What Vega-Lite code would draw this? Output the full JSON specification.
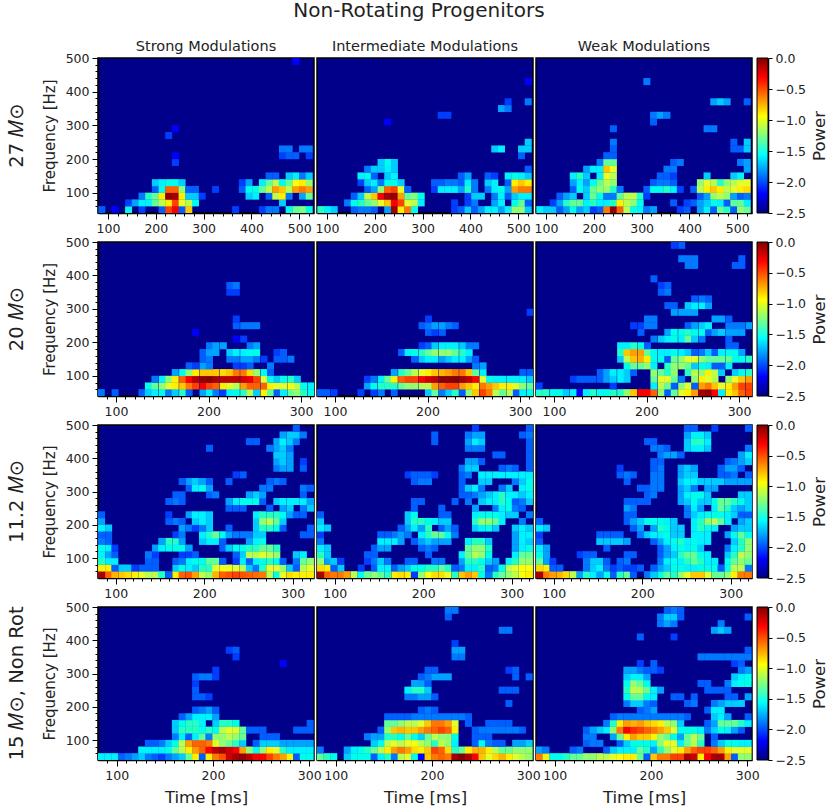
{"$schema":"https://vega.github.io/schema/vega-lite/v6.json","padding":{"left":0,"top":0,"right":0,"bottom":0},"columns":5,"align":"each","bounds":"flush","spacing":{"row":29,"column":3},"background":"white","title":{"text":"Non-Rotating Progenitors","fontSize":20,"fontWeight":"normal","font":"DejaVu Sans","anchor":"middle","offset":17,"dx":5,"color":"#222"},"config":{"font":"DejaVu Sans","legend":{"disable":true},"range":{"heatmap":["#00007f","#0000ff","#007fff","#00ffff","#7fff7f","#ffff00","#ff7f00","#ff0000","#7f0000"]},"axis":{"grid":false,"domainColor":"#000","domainWidth":1.5,"tickColor":"#000","labelFontSize":12.5,"labelColor":"#222","titleFontWeight":"normal","titleFontSize":15,"titleColor":"#222","labelOverlap":false,"labelFlush":false,"labelPadding":3,"titlePadding":8,"tickSize":{"condition":{"test":"datum.value%100==0","value":6},"value":3},"labelExpr":"datum.value%100==0?datum.label:''"},"title":{"fontWeight":"normal","fontSize":14.5,"color":"#222","offset":4},"view":{"fill":"#00008b","stroke":"#000","strokeWidth":1.5}},"datasets":{"cb":[{"a":2,"b":13,"lo":-2.5,"hi":0}],
"a":[{"t":87,"f":50,"v":-2},{"t":115,"f":50,"v":-2.2},{"t":143,"f":50,"v":-1.5},{"t":171,"f":50,"v":-2.1},{"t":213,"f":50,"v":-2},{"t":227,"f":50,"v":-0.4},{"t":241,"f":50,"v":-0.3},{"t":255,"f":50,"v":-2},{"t":269,"f":50,"v":-0.8},{"t":367,"f":50,"v":-2.1},{"t":423,"f":50,"v":-2.1},{"t":437,"f":50,"v":-1.9},{"t":451,"f":50,"v":-1.9},{"t":479,"f":50,"v":-1.5},{"t":493,"f":50,"v":-1.3},{"t":507,"f":50,"v":-1.25},{"t":521,"f":50,"v":-1.5},{"t":143,"f":70,"v":-2.1},{"t":157,"f":70,"v":-1.8},{"t":171,"f":70,"v":-1.6},{"t":185,"f":70,"v":-1.6},{"t":199,"f":70,"v":-1.3},{"t":213,"f":70,"v":-1.1},{"t":227,"f":70,"v":-0.9},{"t":241,"f":70,"v":-0.4},{"t":255,"f":70,"v":-1},{"t":269,"f":70,"v":-1.1},{"t":283,"f":70,"v":-1.5},{"t":465,"f":70,"v":-1.7},{"t":171,"f":90,"v":-1.9},{"t":185,"f":90,"v":-1.4},{"t":199,"f":90,"v":-1.3},{"t":213,"f":90,"v":-0.9},{"t":227,"f":90,"v":-0.05},{"t":241,"f":90,"v":-0.1},{"t":255,"f":90,"v":-0.9},{"t":269,"f":90,"v":-1.7},{"t":283,"f":90,"v":-1.7},{"t":297,"f":90,"v":-2.1},{"t":395,"f":90,"v":-1.7},{"t":409,"f":90,"v":-1.6},{"t":437,"f":90,"v":-2},{"t":451,"f":90,"v":-1.1},{"t":465,"f":90,"v":-0.9},{"t":479,"f":90,"v":-1.9},{"t":507,"f":90,"v":-1.8},{"t":521,"f":90,"v":-1.3},{"t":199,"f":110,"v":-2},{"t":213,"f":110,"v":-1.5},{"t":227,"f":110,"v":-0.5},{"t":241,"f":110,"v":-0.5},{"t":255,"f":110,"v":-1.2},{"t":269,"f":110,"v":-2},{"t":283,"f":110,"v":-2},{"t":325,"f":110,"v":-2.1},{"t":381,"f":110,"v":-2},{"t":395,"f":110,"v":-1.5},{"t":409,"f":110,"v":-1.5},{"t":423,"f":110,"v":-1.3},{"t":437,"f":110,"v":-1.1},{"t":451,"f":110,"v":-0.7},{"t":465,"f":110,"v":-0.8},{"t":479,"f":110,"v":-1.1},{"t":493,"f":110,"v":-0.7},{"t":507,"f":110,"v":-0.6},{"t":521,"f":110,"v":-0.7},{"t":199,"f":130,"v":-1.7},{"t":213,"f":130,"v":-1.6},{"t":227,"f":130,"v":-1.5},{"t":241,"f":130,"v":-1.5},{"t":255,"f":130,"v":-1.7},{"t":381,"f":130,"v":-2.1},{"t":395,"f":130,"v":-1.8},{"t":423,"f":130,"v":-1.6},{"t":437,"f":130,"v":-1.3},{"t":451,"f":130,"v":-1.1},{"t":465,"f":130,"v":-1.5},{"t":479,"f":130,"v":-1.3},{"t":493,"f":130,"v":-0.95},{"t":507,"f":130,"v":-0.9},{"t":521,"f":130,"v":-1.2},{"t":437,"f":150,"v":-2},{"t":451,"f":150,"v":-2},{"t":479,"f":150,"v":-1.7},{"t":493,"f":150,"v":-1.6},{"t":507,"f":150,"v":-1.9},{"t":521,"f":150,"v":-1.7},{"t":241,"f":190,"v":-2.1},{"t":241,"f":210,"v":-2.2},{"t":465,"f":210,"v":-2.1},{"t":479,"f":210,"v":-2},{"t":493,"f":210,"v":-2},{"t":521,"f":210,"v":-2.1},{"t":465,"f":230,"v":-1.9},{"t":479,"f":230,"v":-1.9},{"t":507,"f":230,"v":-1.9},{"t":521,"f":230,"v":-1.9},{"t":227,"f":270,"v":-2.1},{"t":241,"f":290,"v":-2.2},{"t":493,"f":490,"v":-2.2}],
"b":[{"t":87,"f":50,"v":-1.4},{"t":101,"f":50,"v":-1.6},{"t":115,"f":50,"v":-1.7},{"t":157,"f":50,"v":-2},{"t":171,"f":50,"v":-1.9},{"t":185,"f":50,"v":-1.9},{"t":199,"f":50,"v":-2},{"t":227,"f":50,"v":-1.8},{"t":241,"f":50,"v":-0.1},{"t":255,"f":50,"v":-0.9},{"t":269,"f":50,"v":-0.6},{"t":283,"f":50,"v":-1.5},{"t":367,"f":50,"v":-2.1},{"t":381,"f":50,"v":-2},{"t":395,"f":50,"v":-1.7},{"t":409,"f":50,"v":-2},{"t":423,"f":50,"v":-1.8},{"t":437,"f":50,"v":-1.6},{"t":451,"f":50,"v":-1.6},{"t":465,"f":50,"v":-1.8},{"t":479,"f":50,"v":-1.6},{"t":493,"f":50,"v":-1.2},{"t":507,"f":50,"v":-1.2},{"t":521,"f":50,"v":-1.7},{"t":143,"f":70,"v":-1.9},{"t":157,"f":70,"v":-1.5},{"t":171,"f":70,"v":-1.4},{"t":185,"f":70,"v":-1.3},{"t":199,"f":70,"v":-1.2},{"t":213,"f":70,"v":-1},{"t":227,"f":70,"v":-0.8},{"t":241,"f":70,"v":-0.3},{"t":255,"f":70,"v":-0.4},{"t":269,"f":70,"v":-1},{"t":283,"f":70,"v":-1.1},{"t":297,"f":70,"v":-1.6},{"t":367,"f":70,"v":-2.1},{"t":395,"f":70,"v":-2.1},{"t":409,"f":70,"v":-1.9},{"t":451,"f":70,"v":-1.8},{"t":465,"f":70,"v":-1.6},{"t":493,"f":70,"v":-1.5},{"t":507,"f":70,"v":-1.3},{"t":521,"f":70,"v":-2},{"t":157,"f":90,"v":-2},{"t":171,"f":90,"v":-1.7},{"t":185,"f":90,"v":-1.1},{"t":199,"f":90,"v":-0.8},{"t":213,"f":90,"v":-0.3},{"t":227,"f":90,"v":-0.1},{"t":241,"f":90,"v":-0.05},{"t":255,"f":90,"v":-0.7},{"t":269,"f":90,"v":-1.3},{"t":283,"f":90,"v":-1.25},{"t":297,"f":90,"v":-1.5},{"t":395,"f":90,"v":-2.1},{"t":409,"f":90,"v":-1.7},{"t":423,"f":90,"v":-1.7},{"t":451,"f":90,"v":-1.9},{"t":465,"f":90,"v":-1.6},{"t":479,"f":90,"v":-2},{"t":493,"f":90,"v":-1.7},{"t":507,"f":90,"v":-1.6},{"t":521,"f":90,"v":-1.6},{"t":185,"f":110,"v":-2},{"t":199,"f":110,"v":-1.8},{"t":213,"f":110,"v":-1.2},{"t":227,"f":110,"v":-0.5},{"t":241,"f":110,"v":-0.4},{"t":255,"f":110,"v":-1},{"t":269,"f":110,"v":-2},{"t":325,"f":110,"v":-2.1},{"t":339,"f":110,"v":-1.6},{"t":353,"f":110,"v":-1.6},{"t":367,"f":110,"v":-1.6},{"t":381,"f":110,"v":-1.8},{"t":395,"f":110,"v":-1.4},{"t":409,"f":110,"v":-1.9},{"t":437,"f":110,"v":-1.9},{"t":451,"f":110,"v":-1.6},{"t":465,"f":110,"v":-1.5},{"t":479,"f":110,"v":-1.8},{"t":493,"f":110,"v":-0.7},{"t":507,"f":110,"v":-0.6},{"t":521,"f":110,"v":-0.6},{"t":171,"f":130,"v":-2.1},{"t":185,"f":130,"v":-1.7},{"t":199,"f":130,"v":-1.6},{"t":213,"f":130,"v":-1.9},{"t":227,"f":130,"v":-1.5},{"t":241,"f":130,"v":-1.5},{"t":255,"f":130,"v":-1.7},{"t":325,"f":130,"v":-2},{"t":339,"f":130,"v":-2},{"t":353,"f":130,"v":-1.9},{"t":367,"f":130,"v":-1.9},{"t":381,"f":130,"v":-2},{"t":395,"f":130,"v":-1.6},{"t":409,"f":130,"v":-1.9},{"t":437,"f":130,"v":-1.7},{"t":451,"f":130,"v":-1.6},{"t":479,"f":130,"v":-2},{"t":493,"f":130,"v":-0.9},{"t":507,"f":130,"v":-0.8},{"t":521,"f":130,"v":-0.9},{"t":171,"f":150,"v":-1.6},{"t":185,"f":150,"v":-1.5},{"t":199,"f":150,"v":-2},{"t":227,"f":150,"v":-1.7},{"t":241,"f":150,"v":-1.6},{"t":381,"f":150,"v":-2},{"t":395,"f":150,"v":-1.8},{"t":437,"f":150,"v":-2},{"t":451,"f":150,"v":-2.1},{"t":479,"f":150,"v":-1.6},{"t":493,"f":150,"v":-1.5},{"t":507,"f":150,"v":-1.6},{"t":521,"f":150,"v":-1.7},{"t":185,"f":170,"v":-1.9},{"t":199,"f":170,"v":-1.7},{"t":213,"f":170,"v":-1.7},{"t":227,"f":170,"v":-1.6},{"t":241,"f":170,"v":-1.7},{"t":521,"f":170,"v":-2},{"t":213,"f":190,"v":-1.7},{"t":227,"f":190,"v":-1.5},{"t":241,"f":190,"v":-1.7},{"t":507,"f":210,"v":-2},{"t":451,"f":230,"v":-1.7},{"t":465,"f":230,"v":-1.6},{"t":507,"f":230,"v":-1.7},{"t":521,"f":230,"v":-1.7},{"t":521,"f":250,"v":-1.7},{"t":227,"f":310,"v":-2.2},{"t":339,"f":330,"v":-2.1},{"t":353,"f":330,"v":-2.1},{"t":465,"f":350,"v":-1.8},{"t":479,"f":350,"v":-1.9},{"t":479,"f":370,"v":-2.1},{"t":521,"f":370,"v":-1.9},{"t":521,"f":430,"v":-2.2}],
"c":[{"t":87,"f":50,"v":-1.6},{"t":101,"f":50,"v":-1.7},{"t":115,"f":50,"v":-1.7},{"t":129,"f":50,"v":-2},{"t":143,"f":50,"v":-1.8},{"t":157,"f":50,"v":-1.5},{"t":171,"f":50,"v":-1.8},{"t":185,"f":50,"v":-1.7},{"t":199,"f":50,"v":-2.1},{"t":213,"f":50,"v":-2},{"t":227,"f":50,"v":-0.6},{"t":241,"f":50,"v":-0.05},{"t":255,"f":50,"v":-0.5},{"t":269,"f":50,"v":-1.1},{"t":283,"f":50,"v":-1.5},{"t":297,"f":50,"v":-1.6},{"t":311,"f":50,"v":-1.9},{"t":325,"f":50,"v":-1.8},{"t":381,"f":50,"v":-2.1},{"t":395,"f":50,"v":-2},{"t":423,"f":50,"v":-1.8},{"t":437,"f":50,"v":-1.6},{"t":451,"f":50,"v":-2},{"t":465,"f":50,"v":-1.3},{"t":479,"f":50,"v":-1.4},{"t":493,"f":50,"v":-2},{"t":507,"f":50,"v":-1.2},{"t":521,"f":50,"v":-1.3},{"t":115,"f":70,"v":-2.1},{"t":129,"f":70,"v":-1.8},{"t":143,"f":70,"v":-1.4},{"t":157,"f":70,"v":-1.3},{"t":171,"f":70,"v":-1.3},{"t":185,"f":70,"v":-1.6},{"t":199,"f":70,"v":-1.4},{"t":213,"f":70,"v":-1.6},{"t":227,"f":70,"v":-1.6},{"t":241,"f":70,"v":-1.4},{"t":255,"f":70,"v":-0.9},{"t":269,"f":70,"v":-1.1},{"t":283,"f":70,"v":-1.2},{"t":297,"f":70,"v":-1.5},{"t":367,"f":70,"v":-2},{"t":395,"f":70,"v":-2.1},{"t":409,"f":70,"v":-2},{"t":423,"f":70,"v":-1.8},{"t":437,"f":70,"v":-1.7},{"t":451,"f":70,"v":-1.5},{"t":465,"f":70,"v":-1.6},{"t":479,"f":70,"v":-2},{"t":493,"f":70,"v":-1.3},{"t":507,"f":70,"v":-1.3},{"t":521,"f":70,"v":-1.6},{"t":129,"f":90,"v":-2},{"t":143,"f":90,"v":-1.8},{"t":157,"f":90,"v":-1.7},{"t":185,"f":90,"v":-1.7},{"t":199,"f":90,"v":-1.3},{"t":213,"f":90,"v":-1.5},{"t":227,"f":90,"v":-1.9},{"t":241,"f":90,"v":-1.9},{"t":255,"f":90,"v":-1.3},{"t":269,"f":90,"v":-1.1},{"t":283,"f":90,"v":-1.1},{"t":297,"f":90,"v":-1.4},{"t":311,"f":90,"v":-2.1},{"t":423,"f":90,"v":-2},{"t":437,"f":90,"v":-1.8},{"t":451,"f":90,"v":-1.2},{"t":465,"f":90,"v":-1.1},{"t":479,"f":90,"v":-1.2},{"t":493,"f":90,"v":-1.8},{"t":507,"f":90,"v":-2},{"t":521,"f":90,"v":-1.9},{"t":157,"f":110,"v":-2},{"t":171,"f":110,"v":-1.5},{"t":185,"f":110,"v":-1.7},{"t":199,"f":110,"v":-1.3},{"t":213,"f":110,"v":-1.2},{"t":227,"f":110,"v":-1.2},{"t":241,"f":110,"v":-1.4},{"t":255,"f":110,"v":-1.9},{"t":311,"f":110,"v":-2},{"t":325,"f":110,"v":-1.5},{"t":339,"f":110,"v":-1.5},{"t":353,"f":110,"v":-1.4},{"t":367,"f":110,"v":-1.6},{"t":381,"f":110,"v":-2.1},{"t":409,"f":110,"v":-2},{"t":423,"f":110,"v":-1.1},{"t":437,"f":110,"v":-0.9},{"t":451,"f":110,"v":-0.8},{"t":465,"f":110,"v":-0.9},{"t":479,"f":110,"v":-1.1},{"t":493,"f":110,"v":-1},{"t":507,"f":110,"v":-0.9},{"t":521,"f":110,"v":-0.85},{"t":157,"f":130,"v":-1.8},{"t":171,"f":130,"v":-1.6},{"t":185,"f":130,"v":-1.8},{"t":199,"f":130,"v":-1.5},{"t":213,"f":130,"v":-1.3},{"t":227,"f":130,"v":-1.1},{"t":241,"f":130,"v":-1.2},{"t":325,"f":130,"v":-2},{"t":339,"f":130,"v":-1.9},{"t":353,"f":130,"v":-1.9},{"t":367,"f":130,"v":-2},{"t":423,"f":130,"v":-1.2},{"t":437,"f":130,"v":-1},{"t":451,"f":130,"v":-1.1},{"t":465,"f":130,"v":-1.4},{"t":479,"f":130,"v":-1.2},{"t":493,"f":130,"v":-1.1},{"t":507,"f":130,"v":-1},{"t":521,"f":130,"v":-1},{"t":157,"f":150,"v":-1.6},{"t":171,"f":150,"v":-1.4},{"t":185,"f":150,"v":-1.7},{"t":213,"f":150,"v":-1.6},{"t":227,"f":150,"v":-1},{"t":241,"f":150,"v":-1.1},{"t":339,"f":150,"v":-2},{"t":353,"f":150,"v":-2},{"t":367,"f":150,"v":-2.1},{"t":437,"f":150,"v":-1.7},{"t":493,"f":150,"v":-1.7},{"t":507,"f":150,"v":-1.6},{"t":185,"f":170,"v":-1.8},{"t":199,"f":170,"v":-1.6},{"t":213,"f":170,"v":-1.6},{"t":227,"f":170,"v":-0.8},{"t":241,"f":170,"v":-1},{"t":353,"f":170,"v":-1.9},{"t":367,"f":170,"v":-1.9},{"t":521,"f":170,"v":-1.8},{"t":213,"f":190,"v":-1.9},{"t":227,"f":190,"v":-1.3},{"t":241,"f":190,"v":-1.3},{"t":367,"f":190,"v":-2},{"t":381,"f":190,"v":-1.9},{"t":507,"f":190,"v":-1.9},{"t":521,"f":190,"v":-1.8},{"t":227,"f":210,"v":-2},{"t":241,"f":210,"v":-2},{"t":241,"f":230,"v":-2},{"t":493,"f":230,"v":-2},{"t":507,"f":230,"v":-2},{"t":521,"f":230,"v":-1.7},{"t":241,"f":250,"v":-1.9},{"t":493,"f":250,"v":-2},{"t":521,"f":250,"v":-1.7},{"t":241,"f":290,"v":-2},{"t":437,"f":290,"v":-1.9},{"t":451,"f":290,"v":-1.9},{"t":325,"f":310,"v":-2},{"t":325,"f":330,"v":-1.9},{"t":339,"f":330,"v":-1.8},{"t":353,"f":330,"v":-1.9},{"t":451,"f":370,"v":-1.8},{"t":465,"f":370,"v":-1.7},{"t":479,"f":370,"v":-1.8},{"t":521,"f":370,"v":-2},{"t":311,"f":430,"v":-1.9}],
"d":[{"t":84,"f":50,"v":-1.9},{"t":99,"f":50,"v":-2},{"t":128,"f":50,"v":-2},{"t":135,"f":50,"v":-1.7},{"t":142,"f":50,"v":-1.6},{"t":150,"f":50,"v":-1.5},{"t":157,"f":50,"v":-1.9},{"t":164,"f":50,"v":-1.7},{"t":172,"f":50,"v":-1.4},{"t":179,"f":50,"v":-2},{"t":194,"f":50,"v":-1.8},{"t":201,"f":50,"v":-1.6},{"t":208,"f":50,"v":-1.9},{"t":216,"f":50,"v":-2.1},{"t":223,"f":50,"v":-1.6},{"t":230,"f":50,"v":-1.5},{"t":238,"f":50,"v":-1.4},{"t":245,"f":50,"v":-1.1},{"t":252,"f":50,"v":-1.7},{"t":260,"f":50,"v":-0.9},{"t":267,"f":50,"v":-1.3},{"t":274,"f":50,"v":-2},{"t":281,"f":50,"v":-1.6},{"t":289,"f":50,"v":-1.3},{"t":296,"f":50,"v":-1.2},{"t":303,"f":50,"v":-1.4},{"t":311,"f":50,"v":-1.5},{"t":135,"f":70,"v":-1.5},{"t":142,"f":70,"v":-1.3},{"t":150,"f":70,"v":-1.2},{"t":157,"f":70,"v":-1},{"t":164,"f":70,"v":-0.9},{"t":172,"f":70,"v":-0.8},{"t":179,"f":70,"v":-0.6},{"t":186,"f":70,"v":-0.4},{"t":194,"f":70,"v":-0.3},{"t":201,"f":70,"v":-0.4},{"t":208,"f":70,"v":-0.5},{"t":216,"f":70,"v":-0.9},{"t":223,"f":70,"v":-1},{"t":230,"f":70,"v":-1.1},{"t":238,"f":70,"v":-0.7},{"t":245,"f":70,"v":-0.5},{"t":252,"f":70,"v":-0.5},{"t":260,"f":70,"v":-0.5},{"t":267,"f":70,"v":-0.9},{"t":274,"f":70,"v":-1},{"t":281,"f":70,"v":-1},{"t":289,"f":70,"v":-0.95},{"t":296,"f":70,"v":-1.1},{"t":303,"f":70,"v":-1.5},{"t":311,"f":70,"v":-1.6},{"t":142,"f":90,"v":-1.9},{"t":150,"f":90,"v":-1.6},{"t":157,"f":90,"v":-1.2},{"t":164,"f":90,"v":-0.9},{"t":172,"f":90,"v":-0.5},{"t":179,"f":90,"v":-0.3},{"t":186,"f":90,"v":-0.15},{"t":194,"f":90,"v":-0.05},{"t":201,"f":90,"v":-0.02},{"t":208,"f":90,"v":-0.1},{"t":216,"f":90,"v":-0.15},{"t":223,"f":90,"v":-0.15},{"t":230,"f":90,"v":-0.15},{"t":238,"f":90,"v":-0.2},{"t":245,"f":90,"v":-0.25},{"t":252,"f":90,"v":-0.4},{"t":260,"f":90,"v":-1},{"t":267,"f":90,"v":-1.5},{"t":274,"f":90,"v":-1.7},{"t":281,"f":90,"v":-1.5},{"t":289,"f":90,"v":-1.4},{"t":296,"f":90,"v":-1.7},{"t":164,"f":110,"v":-1.8},{"t":172,"f":110,"v":-1.5},{"t":179,"f":110,"v":-1.2},{"t":186,"f":110,"v":-0.9},{"t":194,"f":110,"v":-0.8},{"t":201,"f":110,"v":-0.8},{"t":208,"f":110,"v":-0.8},{"t":216,"f":110,"v":-0.85},{"t":223,"f":110,"v":-0.8},{"t":230,"f":110,"v":-0.6},{"t":238,"f":110,"v":-0.6},{"t":245,"f":110,"v":-0.85},{"t":252,"f":110,"v":-1.2},{"t":260,"f":110,"v":-1.5},{"t":267,"f":110,"v":-2},{"t":179,"f":130,"v":-2},{"t":186,"f":130,"v":-2.1},{"t":194,"f":130,"v":-1.8},{"t":201,"f":130,"v":-1.9},{"t":230,"f":130,"v":-2.1},{"t":238,"f":130,"v":-2.1},{"t":245,"f":130,"v":-2},{"t":267,"f":130,"v":-1.9},{"t":194,"f":150,"v":-2},{"t":201,"f":150,"v":-1.9},{"t":223,"f":150,"v":-1.9},{"t":230,"f":150,"v":-1.9},{"t":238,"f":150,"v":-1.8},{"t":245,"f":150,"v":-1.8},{"t":252,"f":150,"v":-1.9},{"t":260,"f":150,"v":-2.1},{"t":274,"f":150,"v":-2},{"t":281,"f":150,"v":-2},{"t":289,"f":150,"v":-1.9},{"t":194,"f":170,"v":-2},{"t":201,"f":170,"v":-1.8},{"t":208,"f":170,"v":-1.8},{"t":223,"f":170,"v":-1.7},{"t":230,"f":170,"v":-1.6},{"t":238,"f":170,"v":-1.6},{"t":245,"f":170,"v":-1.5},{"t":252,"f":170,"v":-1.5},{"t":274,"f":170,"v":-2.1},{"t":281,"f":170,"v":-2},{"t":201,"f":190,"v":-1.9},{"t":208,"f":190,"v":-1.8},{"t":216,"f":190,"v":-1.8},{"t":245,"f":190,"v":-1.9},{"t":252,"f":190,"v":-1.8},{"t":230,"f":210,"v":-2.2},{"t":238,"f":210,"v":-2.1},{"t":186,"f":230,"v":-2.2},{"t":230,"f":250,"v":-2},{"t":238,"f":250,"v":-1.9},{"t":245,"f":250,"v":-1.9},{"t":252,"f":250,"v":-1.9},{"t":230,"f":270,"v":-2.1},{"t":223,"f":350,"v":-2.1},{"t":230,"f":350,"v":-2.1},{"t":223,"f":370,"v":-2},{"t":230,"f":370,"v":-1.9}],
"e":[{"t":84,"f":50,"v":-2},{"t":91,"f":50,"v":-2},{"t":99,"f":50,"v":-2.1},{"t":128,"f":50,"v":-2.1},{"t":142,"f":50,"v":-2.1},{"t":150,"f":50,"v":-1.9},{"t":164,"f":50,"v":-2},{"t":201,"f":50,"v":-1.7},{"t":208,"f":50,"v":-1.3},{"t":216,"f":50,"v":-1.9},{"t":223,"f":50,"v":-1.7},{"t":230,"f":50,"v":-1.4},{"t":238,"f":50,"v":-2},{"t":245,"f":50,"v":-1.2},{"t":252,"f":50,"v":-0.8},{"t":260,"f":50,"v":-0.4},{"t":267,"f":50,"v":-0.6},{"t":274,"f":50,"v":-1.1},{"t":281,"f":50,"v":-1.3},{"t":289,"f":50,"v":-1.1},{"t":296,"f":50,"v":-2},{"t":303,"f":50,"v":-1.6},{"t":311,"f":50,"v":-1.5},{"t":135,"f":70,"v":-1.8},{"t":142,"f":70,"v":-1.5},{"t":150,"f":70,"v":-1.4},{"t":157,"f":70,"v":-1.4},{"t":164,"f":70,"v":-1.4},{"t":172,"f":70,"v":-1.3},{"t":179,"f":70,"v":-1.2},{"t":186,"f":70,"v":-1.2},{"t":194,"f":70,"v":-1.1},{"t":201,"f":70,"v":-1.1},{"t":208,"f":70,"v":-0.7},{"t":216,"f":70,"v":-0.5},{"t":223,"f":70,"v":-0.4},{"t":230,"f":70,"v":-0.4},{"t":238,"f":70,"v":-0.7},{"t":245,"f":70,"v":-0.8},{"t":252,"f":70,"v":-0.9},{"t":260,"f":70,"v":-0.6},{"t":267,"f":70,"v":-0.7},{"t":274,"f":70,"v":-0.8},{"t":281,"f":70,"v":-0.9},{"t":289,"f":70,"v":-0.9},{"t":296,"f":70,"v":-1},{"t":303,"f":70,"v":-1.2},{"t":311,"f":70,"v":-1.3},{"t":135,"f":90,"v":-2.1},{"t":142,"f":90,"v":-1.9},{"t":150,"f":90,"v":-1.6},{"t":157,"f":90,"v":-1.3},{"t":164,"f":90,"v":-0.9},{"t":172,"f":90,"v":-0.5},{"t":179,"f":90,"v":-0.4},{"t":186,"f":90,"v":-0.4},{"t":194,"f":90,"v":-0.3},{"t":201,"f":90,"v":-0.2},{"t":208,"f":90,"v":-0.15},{"t":216,"f":90,"v":-0.02},{"t":223,"f":90,"v":-0.02},{"t":230,"f":90,"v":0},{"t":238,"f":90,"v":-0.1},{"t":245,"f":90,"v":-0.15},{"t":252,"f":90,"v":-0.3},{"t":260,"f":90,"v":-1},{"t":267,"f":90,"v":-1.5},{"t":274,"f":90,"v":-1.6},{"t":281,"f":90,"v":-1.6},{"t":289,"f":90,"v":-1.6},{"t":296,"f":90,"v":-1.6},{"t":303,"f":90,"v":-1.6},{"t":311,"f":90,"v":-1.7},{"t":164,"f":110,"v":-1.8},{"t":172,"f":110,"v":-1.4},{"t":179,"f":110,"v":-1.3},{"t":186,"f":110,"v":-1.1},{"t":194,"f":110,"v":-1},{"t":201,"f":110,"v":-0.9},{"t":208,"f":110,"v":-0.8},{"t":216,"f":110,"v":-0.75},{"t":223,"f":110,"v":-0.7},{"t":230,"f":110,"v":-0.6},{"t":238,"f":110,"v":-0.6},{"t":245,"f":110,"v":-0.8},{"t":252,"f":110,"v":-1.3},{"t":260,"f":110,"v":-1.6},{"t":303,"f":110,"v":-2},{"t":311,"f":110,"v":-2},{"t":252,"f":130,"v":-1.9},{"t":260,"f":130,"v":-1.8},{"t":186,"f":150,"v":-2},{"t":194,"f":150,"v":-1.7},{"t":201,"f":150,"v":-1.6},{"t":208,"f":150,"v":-1.6},{"t":216,"f":150,"v":-1.8},{"t":223,"f":150,"v":-1.7},{"t":230,"f":150,"v":-1.6},{"t":238,"f":150,"v":-1.6},{"t":245,"f":150,"v":-1.8},{"t":252,"f":150,"v":-2},{"t":172,"f":170,"v":-2},{"t":179,"f":170,"v":-1.6},{"t":186,"f":170,"v":-1.5},{"t":194,"f":170,"v":-1.4},{"t":201,"f":170,"v":-1.3},{"t":208,"f":170,"v":-1.2},{"t":216,"f":170,"v":-1.2},{"t":223,"f":170,"v":-1.2},{"t":230,"f":170,"v":-1.3},{"t":238,"f":170,"v":-1.4},{"t":245,"f":170,"v":-1.6},{"t":194,"f":190,"v":-2.1},{"t":201,"f":190,"v":-2},{"t":208,"f":190,"v":-1.7},{"t":216,"f":190,"v":-1.6},{"t":223,"f":190,"v":-1.6},{"t":230,"f":190,"v":-1.6},{"t":238,"f":190,"v":-1.7},{"t":245,"f":190,"v":-1.9},{"t":252,"f":190,"v":-1.9},{"t":201,"f":230,"v":-2},{"t":208,"f":230,"v":-2.1},{"t":216,"f":230,"v":-2},{"t":194,"f":250,"v":-2},{"t":201,"f":250,"v":-1.9},{"t":208,"f":250,"v":-1.8},{"t":216,"f":250,"v":-1.8},{"t":223,"f":250,"v":-1.9},{"t":230,"f":250,"v":-2},{"t":201,"f":270,"v":-2.1},{"t":311,"f":290,"v":-2.1}],
"f":[{"t":84,"f":50,"v":-1.4},{"t":91,"f":50,"v":-1.4},{"t":99,"f":50,"v":-1.5},{"t":106,"f":50,"v":-1.5},{"t":113,"f":50,"v":-1.7},{"t":121,"f":50,"v":-1.6},{"t":128,"f":50,"v":-2.2},{"t":135,"f":50,"v":-1.6},{"t":142,"f":50,"v":-1.4},{"t":150,"f":50,"v":-1.5},{"t":157,"f":50,"v":-1.5},{"t":164,"f":50,"v":-1.4},{"t":172,"f":50,"v":-1.4},{"t":179,"f":50,"v":-1.2},{"t":186,"f":50,"v":-0.8},{"t":194,"f":50,"v":-0.3},{"t":201,"f":50,"v":-0.3},{"t":208,"f":50,"v":-0.5},{"t":216,"f":50,"v":-1.2},{"t":223,"f":50,"v":-2},{"t":230,"f":50,"v":-1.3},{"t":238,"f":50,"v":-1},{"t":245,"f":50,"v":-0.9},{"t":252,"f":50,"v":-0.7},{"t":260,"f":50,"v":-0.1},{"t":267,"f":50,"v":-0.05},{"t":274,"f":50,"v":-0.3},{"t":281,"f":50,"v":-1.6},{"t":289,"f":50,"v":-0.9},{"t":296,"f":50,"v":-0.8},{"t":303,"f":50,"v":-0.5},{"t":311,"f":50,"v":-0.4},{"t":84,"f":70,"v":-2.1},{"t":164,"f":70,"v":-2.1},{"t":208,"f":70,"v":-1.6},{"t":216,"f":70,"v":-1.1},{"t":223,"f":70,"v":-1.3},{"t":230,"f":70,"v":-2},{"t":238,"f":70,"v":-1.2},{"t":245,"f":70,"v":-1},{"t":252,"f":70,"v":-2},{"t":260,"f":70,"v":-0.7},{"t":267,"f":70,"v":-0.6},{"t":274,"f":70,"v":-0.8},{"t":281,"f":70,"v":-1},{"t":289,"f":70,"v":-0.9},{"t":296,"f":70,"v":-0.7},{"t":303,"f":70,"v":-0.4},{"t":311,"f":70,"v":-0.4},{"t":121,"f":90,"v":-2.1},{"t":128,"f":90,"v":-2},{"t":135,"f":90,"v":-2},{"t":142,"f":90,"v":-2},{"t":150,"f":90,"v":-2},{"t":157,"f":90,"v":-1.8},{"t":164,"f":90,"v":-1.7},{"t":172,"f":90,"v":-1.6},{"t":179,"f":90,"v":-1.7},{"t":208,"f":90,"v":-1.3},{"t":216,"f":90,"v":-1},{"t":223,"f":90,"v":-1},{"t":230,"f":90,"v":-1.3},{"t":238,"f":90,"v":-1.9},{"t":252,"f":90,"v":-1.2},{"t":260,"f":90,"v":-0.9},{"t":267,"f":90,"v":-1},{"t":274,"f":90,"v":-1.1},{"t":289,"f":90,"v":-1.2},{"t":296,"f":90,"v":-1},{"t":303,"f":90,"v":-0.8},{"t":311,"f":90,"v":-0.7},{"t":150,"f":110,"v":-2},{"t":157,"f":110,"v":-1.8},{"t":164,"f":110,"v":-1.6},{"t":172,"f":110,"v":-1.6},{"t":179,"f":110,"v":-1.7},{"t":186,"f":110,"v":-2},{"t":208,"f":110,"v":-1.2},{"t":216,"f":110,"v":-1.3},{"t":223,"f":110,"v":-1.4},{"t":230,"f":110,"v":-1.2},{"t":245,"f":110,"v":-1.4},{"t":252,"f":110,"v":-1.1},{"t":260,"f":110,"v":-1.2},{"t":267,"f":110,"v":-0.9},{"t":274,"f":110,"v":-1.1},{"t":281,"f":110,"v":-1.7},{"t":296,"f":110,"v":-1.7},{"t":303,"f":110,"v":-1.5},{"t":311,"f":110,"v":-1.4},{"t":179,"f":130,"v":-1.5},{"t":186,"f":130,"v":-1.3},{"t":194,"f":130,"v":-1.3},{"t":201,"f":130,"v":-1.2},{"t":208,"f":130,"v":-1.6},{"t":223,"f":130,"v":-1.4},{"t":230,"f":130,"v":-1.2},{"t":238,"f":130,"v":-1.2},{"t":245,"f":130,"v":-1.3},{"t":252,"f":130,"v":-1.7},{"t":260,"f":130,"v":-1.5},{"t":267,"f":130,"v":-1.6},{"t":274,"f":130,"v":-2},{"t":281,"f":130,"v":-2},{"t":289,"f":130,"v":-1.6},{"t":172,"f":150,"v":-1.7},{"t":179,"f":150,"v":-1.1},{"t":186,"f":150,"v":-0.8},{"t":194,"f":150,"v":-0.75},{"t":201,"f":150,"v":-0.9},{"t":208,"f":150,"v":-1.5},{"t":216,"f":150,"v":-1.5},{"t":223,"f":150,"v":-2},{"t":230,"f":150,"v":-1.3},{"t":238,"f":150,"v":-1.2},{"t":245,"f":150,"v":-1},{"t":252,"f":150,"v":-1},{"t":260,"f":150,"v":-1.2},{"t":267,"f":150,"v":-1.3},{"t":274,"f":150,"v":-1.3},{"t":281,"f":150,"v":-1.3},{"t":289,"f":150,"v":-1.3},{"t":296,"f":150,"v":-1.5},{"t":303,"f":150,"v":-1.5},{"t":311,"f":150,"v":-1.4},{"t":172,"f":170,"v":-1.4},{"t":179,"f":170,"v":-0.8},{"t":186,"f":170,"v":-0.7},{"t":194,"f":170,"v":-0.7},{"t":201,"f":170,"v":-1.3},{"t":208,"f":170,"v":-1.5},{"t":216,"f":170,"v":-1.6},{"t":223,"f":170,"v":-1.6},{"t":230,"f":170,"v":-1.5},{"t":238,"f":170,"v":-1.6},{"t":245,"f":170,"v":-1.7},{"t":252,"f":170,"v":-2},{"t":260,"f":170,"v":-1.9},{"t":267,"f":170,"v":-1.7},{"t":274,"f":170,"v":-2},{"t":281,"f":170,"v":-1.6},{"t":289,"f":170,"v":-1.5},{"t":296,"f":170,"v":-1.5},{"t":303,"f":170,"v":-1.8},{"t":172,"f":190,"v":-1.6},{"t":179,"f":190,"v":-1.6},{"t":186,"f":190,"v":-1.4},{"t":194,"f":190,"v":-1.5},{"t":201,"f":190,"v":-2},{"t":289,"f":190,"v":-2},{"t":296,"f":190,"v":-2},{"t":208,"f":210,"v":-1.9},{"t":216,"f":210,"v":-1.7},{"t":223,"f":210,"v":-1.6},{"t":230,"f":210,"v":-1.5},{"t":238,"f":210,"v":-1.6},{"t":245,"f":210,"v":-1.3},{"t":252,"f":210,"v":-1.7},{"t":260,"f":210,"v":-1.9},{"t":289,"f":210,"v":-2},{"t":194,"f":230,"v":-2},{"t":223,"f":230,"v":-1.8},{"t":230,"f":230,"v":-1.5},{"t":238,"f":230,"v":-1.5},{"t":245,"f":230,"v":-1.4},{"t":252,"f":230,"v":-1.5},{"t":260,"f":230,"v":-1.5},{"t":267,"f":230,"v":-2},{"t":274,"f":230,"v":-1.8},{"t":281,"f":230,"v":-1.7},{"t":289,"f":230,"v":-1.8},{"t":296,"f":230,"v":-1.8},{"t":303,"f":230,"v":-1.8},{"t":186,"f":250,"v":-2.1},{"t":194,"f":250,"v":-2.1},{"t":201,"f":250,"v":-1.9},{"t":208,"f":250,"v":-1.9},{"t":245,"f":250,"v":-2},{"t":252,"f":250,"v":-1.8},{"t":260,"f":250,"v":-1.7},{"t":267,"f":250,"v":-1.6},{"t":289,"f":250,"v":-1.9},{"t":296,"f":250,"v":-1.9},{"t":303,"f":250,"v":-1.9},{"t":311,"f":250,"v":-1.8},{"t":201,"f":270,"v":-1.9},{"t":208,"f":270,"v":-1.9},{"t":274,"f":270,"v":-1.8},{"t":281,"f":270,"v":-1.8},{"t":289,"f":270,"v":-2},{"t":230,"f":290,"v":-1.8},{"t":238,"f":290,"v":-1.8},{"t":245,"f":290,"v":-1.8},{"t":252,"f":290,"v":-1.8},{"t":223,"f":310,"v":-2},{"t":230,"f":310,"v":-2},{"t":245,"f":310,"v":-1.7},{"t":252,"f":310,"v":-1.6},{"t":260,"f":310,"v":-1.6},{"t":267,"f":310,"v":-1.8},{"t":252,"f":330,"v":-2},{"t":260,"f":330,"v":-1.9},{"t":267,"f":330,"v":-2},{"t":216,"f":350,"v":-2},{"t":223,"f":350,"v":-1.9},{"t":216,"f":370,"v":-2.1},{"t":223,"f":370,"v":-2},{"t":208,"f":390,"v":-2},{"t":296,"f":430,"v":-2},{"t":303,"f":430,"v":-2},{"t":245,"f":430,"v":-1.9},{"t":252,"f":430,"v":-1.9},{"t":238,"f":450,"v":-1.9},{"t":245,"f":450,"v":-1.9},{"t":252,"f":450,"v":-1.9},{"t":303,"f":450,"v":-2},{"t":230,"f":490,"v":-2.1},{"t":238,"f":490,"v":-2}],
"g":[{"t":84,"f":50,"v":-0.1},{"t":92,"f":50,"v":-0.5},{"t":99,"f":50,"v":-0.75},{"t":107,"f":50,"v":-0.8},{"t":114,"f":50,"v":-0.85},{"t":122,"f":50,"v":-0.9},{"t":130,"f":50,"v":-1},{"t":137,"f":50,"v":-1.1},{"t":145,"f":50,"v":-1.1},{"t":152,"f":50,"v":-1.4},{"t":160,"f":50,"v":-2},{"t":168,"f":50,"v":-0.9},{"t":175,"f":50,"v":-0.5},{"t":183,"f":50,"v":-0.45},{"t":190,"f":50,"v":-0.7},{"t":198,"f":50,"v":-1.1},{"t":206,"f":50,"v":-1.2},{"t":213,"f":50,"v":-0.75},{"t":221,"f":50,"v":-0.5},{"t":228,"f":50,"v":-0.45},{"t":236,"f":50,"v":-0.4},{"t":244,"f":50,"v":-0.45},{"t":251,"f":50,"v":-0.5},{"t":259,"f":50,"v":-0.55},{"t":266,"f":50,"v":-0.6},{"t":274,"f":50,"v":-1.1},{"t":282,"f":50,"v":-1.5},{"t":289,"f":50,"v":-1},{"t":297,"f":50,"v":-0.85},{"t":304,"f":50,"v":-0.9},{"t":312,"f":50,"v":-0.9},{"t":320,"f":50,"v":-0.9},{"t":84,"f":70,"v":-0.9},{"t":92,"f":70,"v":-0.9},{"t":99,"f":70,"v":-2},{"t":107,"f":70,"v":-1.7},{"t":114,"f":70,"v":-1.7},{"t":122,"f":70,"v":-2.1},{"t":130,"f":70,"v":-2},{"t":137,"f":70,"v":-2},{"t":145,"f":70,"v":-2},{"t":168,"f":70,"v":-1.7},{"t":175,"f":70,"v":-1.5},{"t":183,"f":70,"v":-1.6},{"t":190,"f":70,"v":-1.7},{"t":198,"f":70,"v":-1.4},{"t":206,"f":70,"v":-1.4},{"t":213,"f":70,"v":-1},{"t":221,"f":70,"v":-0.95},{"t":228,"f":70,"v":-1},{"t":236,"f":70,"v":-1},{"t":244,"f":70,"v":-1.1},{"t":251,"f":70,"v":-1.7},{"t":259,"f":70,"v":-1.9},{"t":266,"f":70,"v":-1.4},{"t":274,"f":70,"v":-1},{"t":282,"f":70,"v":-1},{"t":289,"f":70,"v":-1.2},{"t":297,"f":70,"v":-1.7},{"t":304,"f":70,"v":-2},{"t":312,"f":70,"v":-1.1},{"t":320,"f":70,"v":-1},{"t":84,"f":90,"v":-1.4},{"t":92,"f":90,"v":-1.6},{"t":99,"f":90,"v":-1.6},{"t":137,"f":90,"v":-2},{"t":145,"f":90,"v":-2},{"t":168,"f":90,"v":-2},{"t":175,"f":90,"v":-1.9},{"t":183,"f":90,"v":-1.6},{"t":190,"f":90,"v":-1.5},{"t":198,"f":90,"v":-1.5},{"t":206,"f":90,"v":-1.3},{"t":213,"f":90,"v":-1.3},{"t":221,"f":90,"v":-2},{"t":236,"f":90,"v":-2.1},{"t":244,"f":90,"v":-1.6},{"t":251,"f":90,"v":-2},{"t":259,"f":90,"v":-1.6},{"t":266,"f":90,"v":-1.5},{"t":274,"f":90,"v":-1.4},{"t":282,"f":90,"v":-1.5},{"t":289,"f":90,"v":-2},{"t":304,"f":90,"v":-1.9},{"t":312,"f":90,"v":-1.3},{"t":320,"f":90,"v":-1.2},{"t":84,"f":110,"v":-1.6},{"t":92,"f":110,"v":-1.8},{"t":99,"f":110,"v":-2},{"t":137,"f":110,"v":-1.9},{"t":145,"f":110,"v":-2.1},{"t":175,"f":110,"v":-2.1},{"t":183,"f":110,"v":-2.1},{"t":190,"f":110,"v":-2},{"t":236,"f":110,"v":-2},{"t":244,"f":110,"v":-1.7},{"t":251,"f":110,"v":-1.1},{"t":259,"f":110,"v":-1.1},{"t":266,"f":110,"v":-1},{"t":274,"f":110,"v":-1.1},{"t":282,"f":110,"v":-1.2},{"t":304,"f":110,"v":-1.7},{"t":312,"f":110,"v":-1.6},{"t":84,"f":130,"v":-1.5},{"t":92,"f":130,"v":-1.6},{"t":99,"f":130,"v":-2.1},{"t":145,"f":130,"v":-1.8},{"t":152,"f":130,"v":-1.6},{"t":160,"f":130,"v":-1.5},{"t":168,"f":130,"v":-1.5},{"t":175,"f":130,"v":-1.5},{"t":183,"f":130,"v":-1.8},{"t":221,"f":130,"v":-2},{"t":228,"f":130,"v":-1.7},{"t":236,"f":130,"v":-1.5},{"t":244,"f":130,"v":-1.5},{"t":251,"f":130,"v":-1.4},{"t":259,"f":130,"v":-1.4},{"t":266,"f":130,"v":-1.3},{"t":274,"f":130,"v":-1.3},{"t":282,"f":130,"v":-1.4},{"t":84,"f":150,"v":-1.9},{"t":92,"f":150,"v":-2},{"t":152,"f":150,"v":-1.8},{"t":160,"f":150,"v":-1.4},{"t":168,"f":150,"v":-1.4},{"t":175,"f":150,"v":-1.8},{"t":198,"f":150,"v":-1.7},{"t":206,"f":150,"v":-1.6},{"t":213,"f":150,"v":-1.6},{"t":221,"f":150,"v":-2},{"t":251,"f":150,"v":-1.8},{"t":259,"f":150,"v":-1.6},{"t":266,"f":150,"v":-1.5},{"t":84,"f":170,"v":-2},{"t":92,"f":170,"v":-2},{"t":168,"f":170,"v":-2.1},{"t":175,"f":170,"v":-1.9},{"t":198,"f":170,"v":-1.6},{"t":206,"f":170,"v":-1.4},{"t":213,"f":170,"v":-1.3},{"t":221,"f":170,"v":-1.5},{"t":228,"f":170,"v":-1.8},{"t":236,"f":170,"v":-1.9},{"t":244,"f":170,"v":-1.9},{"t":251,"f":170,"v":-1.9},{"t":259,"f":170,"v":-1.7},{"t":266,"f":170,"v":-1.7},{"t":312,"f":170,"v":-2},{"t":320,"f":170,"v":-2},{"t":84,"f":190,"v":-1.6},{"t":92,"f":190,"v":-1.7},{"t":175,"f":190,"v":-1.8},{"t":183,"f":190,"v":-1.9},{"t":190,"f":190,"v":-2.1},{"t":198,"f":190,"v":-1.9},{"t":206,"f":190,"v":-1.7},{"t":228,"f":190,"v":-2},{"t":259,"f":190,"v":-1.7},{"t":266,"f":190,"v":-1.4},{"t":274,"f":190,"v":-1.4},{"t":282,"f":190,"v":-1.5},{"t":289,"f":190,"v":-2},{"t":320,"f":190,"v":-2},{"t":84,"f":210,"v":-1.8},{"t":160,"f":210,"v":-2},{"t":168,"f":210,"v":-1.9},{"t":175,"f":210,"v":-2},{"t":190,"f":210,"v":-1.7},{"t":198,"f":210,"v":-1.6},{"t":206,"f":210,"v":-1.7},{"t":259,"f":210,"v":-1.7},{"t":266,"f":210,"v":-1.2},{"t":274,"f":210,"v":-1.1},{"t":282,"f":210,"v":-1.3},{"t":289,"f":210,"v":-1.7},{"t":84,"f":230,"v":-2},{"t":160,"f":230,"v":-2.1},{"t":183,"f":230,"v":-1.8},{"t":190,"f":230,"v":-1.6},{"t":198,"f":230,"v":-1.6},{"t":206,"f":230,"v":-1.7},{"t":259,"f":230,"v":-1.6},{"t":266,"f":230,"v":-1.4},{"t":274,"f":230,"v":-1.4},{"t":282,"f":230,"v":-1.4},{"t":289,"f":230,"v":-1.5},{"t":297,"f":230,"v":-1.8},{"t":304,"f":230,"v":-2},{"t":312,"f":230,"v":-2},{"t":228,"f":250,"v":-2},{"t":236,"f":250,"v":-2},{"t":244,"f":250,"v":-2},{"t":274,"f":250,"v":-2},{"t":289,"f":250,"v":-1.8},{"t":297,"f":250,"v":-1.7},{"t":312,"f":250,"v":-1.9},{"t":320,"f":250,"v":-1.7},{"t":160,"f":270,"v":-2},{"t":168,"f":270,"v":-1.9},{"t":175,"f":270,"v":-2},{"t":228,"f":270,"v":-1.8},{"t":236,"f":270,"v":-1.6},{"t":244,"f":270,"v":-1.5},{"t":251,"f":270,"v":-1.5},{"t":259,"f":270,"v":-1.5},{"t":266,"f":270,"v":-2},{"t":282,"f":270,"v":-1.7},{"t":289,"f":270,"v":-1.6},{"t":297,"f":270,"v":-1.6},{"t":304,"f":270,"v":-1.6},{"t":312,"f":270,"v":-1.6},{"t":320,"f":270,"v":-1.8},{"t":168,"f":290,"v":-2},{"t":175,"f":290,"v":-2},{"t":206,"f":290,"v":-2},{"t":213,"f":290,"v":-1.9},{"t":251,"f":290,"v":-1.8},{"t":259,"f":290,"v":-1.7},{"t":266,"f":290,"v":-1.8},{"t":312,"f":290,"v":-2},{"t":183,"f":310,"v":-2},{"t":190,"f":310,"v":-1.6},{"t":198,"f":310,"v":-1.5},{"t":206,"f":310,"v":-1.8},{"t":266,"f":310,"v":-1.9},{"t":274,"f":310,"v":-1.9},{"t":312,"f":310,"v":-1.9},{"t":320,"f":310,"v":-2},{"t":175,"f":330,"v":-2},{"t":183,"f":330,"v":-1.8},{"t":190,"f":330,"v":-1.7},{"t":198,"f":330,"v":-1.8},{"t":206,"f":330,"v":-2},{"t":228,"f":330,"v":-2},{"t":274,"f":330,"v":-2},{"t":282,"f":330,"v":-1.9},{"t":289,"f":330,"v":-2},{"t":236,"f":350,"v":-2.1},{"t":244,"f":350,"v":-2},{"t":282,"f":370,"v":-1.9},{"t":289,"f":370,"v":-1.8},{"t":297,"f":370,"v":-1.8},{"t":312,"f":370,"v":-2},{"t":282,"f":390,"v":-1.8},{"t":289,"f":390,"v":-1.7},{"t":297,"f":390,"v":-1.8},{"t":312,"f":390,"v":-2.1},{"t":282,"f":410,"v":-1.7},{"t":289,"f":410,"v":-1.7},{"t":297,"f":410,"v":-1.8},{"t":206,"f":430,"v":-2},{"t":274,"f":430,"v":-1.9},{"t":282,"f":430,"v":-1.8},{"t":289,"f":430,"v":-1.7},{"t":297,"f":430,"v":-1.9},{"t":251,"f":450,"v":-2},{"t":259,"f":450,"v":-2},{"t":282,"f":450,"v":-1.8},{"t":289,"f":450,"v":-1.6},{"t":297,"f":450,"v":-1.7},{"t":304,"f":450,"v":-1.9},{"t":289,"f":470,"v":-1.8},{"t":297,"f":470,"v":-1.7},{"t":304,"f":470,"v":-1.7},{"t":312,"f":470,"v":-1.9},{"t":304,"f":490,"v":-2}],
"h":[{"t":84,"f":50,"v":-0.1},{"t":92,"f":50,"v":-0.5},{"t":99,"f":50,"v":-0.6},{"t":107,"f":50,"v":-0.6},{"t":114,"f":50,"v":-0.7},{"t":122,"f":50,"v":-1.1},{"t":130,"f":50,"v":-1.5},{"t":137,"f":50,"v":-1.3},{"t":145,"f":50,"v":-1.2},{"t":152,"f":50,"v":-1.3},{"t":160,"f":50,"v":-1.4},{"t":168,"f":50,"v":-0.9},{"t":175,"f":50,"v":-0.85},{"t":183,"f":50,"v":-0.9},{"t":190,"f":50,"v":-2.1},{"t":198,"f":50,"v":-1.2},{"t":206,"f":50,"v":-0.95},{"t":213,"f":50,"v":-0.85},{"t":221,"f":50,"v":-0.85},{"t":228,"f":50,"v":-1},{"t":236,"f":50,"v":-1.4},{"t":244,"f":50,"v":-0.8},{"t":251,"f":50,"v":-0.7},{"t":259,"f":50,"v":-0.8},{"t":266,"f":50,"v":-1.5},{"t":274,"f":50,"v":-1.9},{"t":282,"f":50,"v":-1.4},{"t":289,"f":50,"v":-1.3},{"t":297,"f":50,"v":-1.2},{"t":304,"f":50,"v":-1.1},{"t":312,"f":50,"v":-0.95},{"t":320,"f":50,"v":-0.9},{"t":84,"f":70,"v":-0.85},{"t":92,"f":70,"v":-0.9},{"t":99,"f":70,"v":-2},{"t":107,"f":70,"v":-1.7},{"t":130,"f":70,"v":-2.1},{"t":145,"f":70,"v":-2},{"t":152,"f":70,"v":-1.6},{"t":160,"f":70,"v":-1.6},{"t":168,"f":70,"v":-2},{"t":175,"f":70,"v":-1.8},{"t":183,"f":70,"v":-1.7},{"t":190,"f":70,"v":-1.5},{"t":198,"f":70,"v":-1.5},{"t":206,"f":70,"v":-1.4},{"t":213,"f":70,"v":-1.4},{"t":221,"f":70,"v":-1.3},{"t":228,"f":70,"v":-1.4},{"t":236,"f":70,"v":-2},{"t":244,"f":70,"v":-1.9},{"t":251,"f":70,"v":-1.6},{"t":259,"f":70,"v":-1.6},{"t":266,"f":70,"v":-1.4},{"t":274,"f":70,"v":-2},{"t":282,"f":70,"v":-1.9},{"t":289,"f":70,"v":-1.5},{"t":297,"f":70,"v":-1.1},{"t":304,"f":70,"v":-1},{"t":312,"f":70,"v":-0.95},{"t":320,"f":70,"v":-0.95},{"t":84,"f":90,"v":-1.2},{"t":92,"f":90,"v":-1.8},{"t":99,"f":90,"v":-1.7},{"t":107,"f":90,"v":-2.1},{"t":137,"f":90,"v":-2.1},{"t":145,"f":90,"v":-1.9},{"t":152,"f":90,"v":-1.7},{"t":160,"f":90,"v":-1.9},{"t":183,"f":90,"v":-2},{"t":190,"f":90,"v":-2},{"t":213,"f":90,"v":-1.9},{"t":221,"f":90,"v":-1.9},{"t":244,"f":90,"v":-1.8},{"t":251,"f":90,"v":-1.4},{"t":259,"f":90,"v":-1.4},{"t":266,"f":90,"v":-1.5},{"t":274,"f":90,"v":-1.7},{"t":282,"f":90,"v":-1.8},{"t":297,"f":90,"v":-1.6},{"t":304,"f":90,"v":-1.4},{"t":312,"f":90,"v":-1.2},{"t":320,"f":90,"v":-1.2},{"t":84,"f":110,"v":-1.4},{"t":92,"f":110,"v":-1.7},{"t":137,"f":110,"v":-2},{"t":145,"f":110,"v":-2},{"t":206,"f":110,"v":-2},{"t":244,"f":110,"v":-1.6},{"t":251,"f":110,"v":-1.3},{"t":259,"f":110,"v":-1.1},{"t":266,"f":110,"v":-1.2},{"t":274,"f":110,"v":-1.5},{"t":304,"f":110,"v":-1.6},{"t":312,"f":110,"v":-1.3},{"t":320,"f":110,"v":-1.3},{"t":84,"f":130,"v":-1.6},{"t":92,"f":130,"v":-1.7},{"t":145,"f":130,"v":-2},{"t":152,"f":130,"v":-1.8},{"t":160,"f":130,"v":-1.8},{"t":198,"f":130,"v":-2},{"t":206,"f":130,"v":-1.9},{"t":213,"f":130,"v":-2},{"t":251,"f":130,"v":-1.3},{"t":259,"f":130,"v":-1.2},{"t":266,"f":130,"v":-1.2},{"t":274,"f":130,"v":-1.4},{"t":304,"f":130,"v":-1.8},{"t":312,"f":130,"v":-1.6},{"t":320,"f":130,"v":-1.5},{"t":84,"f":150,"v":-1.9},{"t":152,"f":150,"v":-1.6},{"t":160,"f":150,"v":-1.6},{"t":168,"f":150,"v":-1.6},{"t":175,"f":150,"v":-1.8},{"t":190,"f":150,"v":-2},{"t":198,"f":150,"v":-1.8},{"t":206,"f":150,"v":-1.7},{"t":213,"f":150,"v":-1.8},{"t":221,"f":150,"v":-1.8},{"t":228,"f":150,"v":-1.8},{"t":251,"f":150,"v":-1.6},{"t":259,"f":150,"v":-1.4},{"t":266,"f":150,"v":-1.4},{"t":274,"f":150,"v":-1.7},{"t":304,"f":150,"v":-1.8},{"t":312,"f":150,"v":-1.6},{"t":320,"f":150,"v":-1.7},{"t":84,"f":170,"v":-2.1},{"t":152,"f":170,"v":-2},{"t":160,"f":170,"v":-2},{"t":168,"f":170,"v":-1.9},{"t":175,"f":170,"v":-1.8},{"t":183,"f":170,"v":-1.9},{"t":198,"f":170,"v":-1.6},{"t":206,"f":170,"v":-1.4},{"t":213,"f":170,"v":-1.3},{"t":221,"f":170,"v":-1.3},{"t":228,"f":170,"v":-1.5},{"t":236,"f":170,"v":-1.9},{"t":304,"f":170,"v":-1.8},{"t":312,"f":170,"v":-1.6},{"t":320,"f":170,"v":-1.6},{"t":84,"f":190,"v":-1.6},{"t":92,"f":190,"v":-1.7},{"t":175,"f":190,"v":-2},{"t":183,"f":190,"v":-1.8},{"t":190,"f":190,"v":-1.6},{"t":198,"f":190,"v":-1.8},{"t":206,"f":190,"v":-1.4},{"t":221,"f":190,"v":-2},{"t":228,"f":190,"v":-1.8},{"t":236,"f":190,"v":-2},{"t":259,"f":190,"v":-1.7},{"t":266,"f":190,"v":-1.6},{"t":274,"f":190,"v":-1.5},{"t":282,"f":190,"v":-1.7},{"t":304,"f":190,"v":-1.7},{"t":312,"f":190,"v":-1.6},{"t":320,"f":190,"v":-1.7},{"t":84,"f":210,"v":-1.7},{"t":183,"f":210,"v":-1.7},{"t":190,"f":210,"v":-1.4},{"t":198,"f":210,"v":-1.4},{"t":206,"f":210,"v":-1.5},{"t":213,"f":210,"v":-1.6},{"t":221,"f":210,"v":-1.7},{"t":228,"f":210,"v":-1.7},{"t":259,"f":210,"v":-1.4},{"t":266,"f":210,"v":-1.2},{"t":274,"f":210,"v":-1.2},{"t":282,"f":210,"v":-1.3},{"t":289,"f":210,"v":-1.6},{"t":312,"f":210,"v":-1.9},{"t":84,"f":230,"v":-2},{"t":183,"f":230,"v":-1.7},{"t":190,"f":230,"v":-1.5},{"t":221,"f":230,"v":-2},{"t":228,"f":230,"v":-2},{"t":259,"f":230,"v":-1.6},{"t":266,"f":230,"v":-1.5},{"t":274,"f":230,"v":-1.5},{"t":282,"f":230,"v":-1.5},{"t":289,"f":230,"v":-1.6},{"t":297,"f":230,"v":-1.7},{"t":304,"f":230,"v":-1.7},{"t":320,"f":230,"v":-1.9},{"t":190,"f":250,"v":-2},{"t":221,"f":250,"v":-2},{"t":259,"f":250,"v":-1.8},{"t":282,"f":250,"v":-1.9},{"t":289,"f":250,"v":-1.6},{"t":297,"f":250,"v":-1.5},{"t":304,"f":250,"v":-1.9},{"t":312,"f":250,"v":-2},{"t":190,"f":270,"v":-2},{"t":198,"f":270,"v":-2},{"t":236,"f":270,"v":-2},{"t":251,"f":270,"v":-1.9},{"t":266,"f":270,"v":-1.7},{"t":274,"f":270,"v":-1.6},{"t":282,"f":270,"v":-1.6},{"t":289,"f":270,"v":-1.4},{"t":297,"f":270,"v":-1.5},{"t":304,"f":270,"v":-2},{"t":312,"f":270,"v":-1.9},{"t":320,"f":270,"v":-1.7},{"t":244,"f":290,"v":-2},{"t":251,"f":290,"v":-2},{"t":259,"f":290,"v":-1.9},{"t":266,"f":290,"v":-1.8},{"t":274,"f":290,"v":-1.7},{"t":282,"f":290,"v":-1.6},{"t":289,"f":290,"v":-1.4},{"t":297,"f":290,"v":-1.6},{"t":304,"f":290,"v":-1.6},{"t":312,"f":290,"v":-1.7},{"t":320,"f":290,"v":-1.6},{"t":244,"f":310,"v":-2},{"t":251,"f":310,"v":-1.7},{"t":259,"f":310,"v":-1.6},{"t":266,"f":310,"v":-1.9},{"t":289,"f":310,"v":-1.9},{"t":297,"f":310,"v":-1.7},{"t":312,"f":310,"v":-1.6},{"t":320,"f":310,"v":-1.5},{"t":190,"f":330,"v":-2},{"t":198,"f":330,"v":-1.9},{"t":206,"f":330,"v":-1.9},{"t":244,"f":330,"v":-2},{"t":266,"f":330,"v":-1.7},{"t":274,"f":330,"v":-1.7},{"t":304,"f":330,"v":-1.9},{"t":312,"f":330,"v":-1.7},{"t":320,"f":330,"v":-1.5},{"t":183,"f":350,"v":-2.1},{"t":190,"f":350,"v":-2},{"t":198,"f":350,"v":-2},{"t":206,"f":350,"v":-2},{"t":213,"f":350,"v":-2.1},{"t":244,"f":350,"v":-2},{"t":251,"f":350,"v":-1.9},{"t":266,"f":350,"v":-1.6},{"t":274,"f":350,"v":-1.6},{"t":282,"f":350,"v":-1.6},{"t":289,"f":350,"v":-1.6},{"t":297,"f":350,"v":-1.6},{"t":304,"f":350,"v":-1.6},{"t":312,"f":350,"v":-1.6},{"t":320,"f":350,"v":-1.6},{"t":244,"f":370,"v":-1.9},{"t":251,"f":370,"v":-1.7},{"t":259,"f":370,"v":-1.7},{"t":289,"f":370,"v":-2},{"t":297,"f":370,"v":-1.9},{"t":304,"f":370,"v":-2},{"t":320,"f":370,"v":-2},{"t":251,"f":390,"v":-1.8},{"t":259,"f":390,"v":-1.8},{"t":266,"f":390,"v":-2},{"t":320,"f":390,"v":-2},{"t":282,"f":410,"v":-2},{"t":289,"f":410,"v":-2},{"t":320,"f":410,"v":-2},{"t":251,"f":430,"v":-1.9},{"t":259,"f":430,"v":-1.9},{"t":266,"f":430,"v":-1.9},{"t":320,"f":430,"v":-2},{"t":213,"f":450,"v":-2},{"t":251,"f":450,"v":-1.8},{"t":259,"f":450,"v":-1.6},{"t":266,"f":450,"v":-1.7},{"t":320,"f":450,"v":-2},{"t":213,"f":470,"v":-2},{"t":251,"f":470,"v":-1.9},{"t":259,"f":470,"v":-1.8},{"t":266,"f":470,"v":-1.8},{"t":312,"f":470,"v":-2},{"t":320,"f":470,"v":-1.9},{"t":259,"f":490,"v":-2.1},{"t":320,"f":490,"v":-2}],
"i":[{"t":84,"f":50,"v":-0.1},{"t":92,"f":50,"v":-0.6},{"t":99,"f":50,"v":-0.7},{"t":107,"f":50,"v":-0.75},{"t":114,"f":50,"v":-0.85},{"t":122,"f":50,"v":-1.1},{"t":130,"f":50,"v":-1.8},{"t":137,"f":50,"v":-1.4},{"t":145,"f":50,"v":-1.6},{"t":152,"f":50,"v":-1.8},{"t":160,"f":50,"v":-1.5},{"t":168,"f":50,"v":-2},{"t":175,"f":50,"v":-1.4},{"t":183,"f":50,"v":-1.3},{"t":190,"f":50,"v":-2},{"t":206,"f":50,"v":-1.9},{"t":213,"f":50,"v":-1.7},{"t":221,"f":50,"v":-1.5},{"t":228,"f":50,"v":-1.3},{"t":236,"f":50,"v":-1.4},{"t":244,"f":50,"v":-1.2},{"t":251,"f":50,"v":-1},{"t":259,"f":50,"v":-0.8},{"t":266,"f":50,"v":-0.8},{"t":274,"f":50,"v":-1},{"t":282,"f":50,"v":-1.3},{"t":289,"f":50,"v":-1.3},{"t":297,"f":50,"v":-1.2},{"t":304,"f":50,"v":-0.9},{"t":312,"f":50,"v":-0.6},{"t":320,"f":50,"v":-0.6},{"t":84,"f":70,"v":-0.85},{"t":92,"f":70,"v":-0.9},{"t":99,"f":70,"v":-2},{"t":107,"f":70,"v":-2},{"t":137,"f":70,"v":-1.9},{"t":145,"f":70,"v":-1.7},{"t":152,"f":70,"v":-1.6},{"t":160,"f":70,"v":-1.9},{"t":168,"f":70,"v":-2.1},{"t":175,"f":70,"v":-2},{"t":183,"f":70,"v":-2.1},{"t":190,"f":70,"v":-2.1},{"t":198,"f":70,"v":-2},{"t":213,"f":70,"v":-2},{"t":221,"f":70,"v":-1.8},{"t":228,"f":70,"v":-1.7},{"t":236,"f":70,"v":-1.5},{"t":244,"f":70,"v":-1.5},{"t":251,"f":70,"v":-1.6},{"t":259,"f":70,"v":-1.6},{"t":266,"f":70,"v":-1.5},{"t":274,"f":70,"v":-1.5},{"t":282,"f":70,"v":-1.5},{"t":289,"f":70,"v":-2},{"t":297,"f":70,"v":-1.5},{"t":304,"f":70,"v":-1.1},{"t":312,"f":70,"v":-1.1},{"t":320,"f":70,"v":-1.9},{"t":84,"f":90,"v":-1.3},{"t":92,"f":90,"v":-1.8},{"t":99,"f":90,"v":-2.1},{"t":137,"f":90,"v":-1.9},{"t":145,"f":90,"v":-1.7},{"t":152,"f":90,"v":-1.7},{"t":160,"f":90,"v":-2},{"t":175,"f":90,"v":-2},{"t":183,"f":90,"v":-1.9},{"t":221,"f":90,"v":-1.9},{"t":228,"f":90,"v":-1.6},{"t":236,"f":90,"v":-1.5},{"t":244,"f":90,"v":-1.6},{"t":251,"f":90,"v":-1.4},{"t":259,"f":90,"v":-1.3},{"t":266,"f":90,"v":-1.4},{"t":274,"f":90,"v":-1.6},{"t":282,"f":90,"v":-1.6},{"t":297,"f":90,"v":-1.5},{"t":304,"f":90,"v":-1.3},{"t":312,"f":90,"v":-1.2},{"t":320,"f":90,"v":-1.3},{"t":84,"f":110,"v":-1.5},{"t":92,"f":110,"v":-1.8},{"t":130,"f":110,"v":-2.1},{"t":137,"f":110,"v":-2},{"t":145,"f":110,"v":-2},{"t":183,"f":110,"v":-2},{"t":190,"f":110,"v":-2},{"t":221,"f":110,"v":-2},{"t":228,"f":110,"v":-1.8},{"t":236,"f":110,"v":-1.7},{"t":244,"f":110,"v":-1.4},{"t":251,"f":110,"v":-1.3},{"t":259,"f":110,"v":-1.3},{"t":266,"f":110,"v":-1.5},{"t":274,"f":110,"v":-1.6},{"t":297,"f":110,"v":-1.7},{"t":304,"f":110,"v":-1.4},{"t":312,"f":110,"v":-1.1},{"t":320,"f":110,"v":-1.2},{"t":84,"f":130,"v":-1.6},{"t":92,"f":130,"v":-1.8},{"t":160,"f":130,"v":-2},{"t":221,"f":130,"v":-2},{"t":228,"f":130,"v":-1.8},{"t":236,"f":130,"v":-1.6},{"t":244,"f":130,"v":-1.5},{"t":251,"f":130,"v":-1.6},{"t":259,"f":130,"v":-1.5},{"t":266,"f":130,"v":-1.7},{"t":297,"f":130,"v":-1.9},{"t":304,"f":130,"v":-1.6},{"t":312,"f":130,"v":-1.4},{"t":320,"f":130,"v":-1.2},{"t":84,"f":150,"v":-2},{"t":152,"f":150,"v":-1.7},{"t":160,"f":150,"v":-1.7},{"t":168,"f":150,"v":-1.7},{"t":175,"f":150,"v":-1.7},{"t":183,"f":150,"v":-1.8},{"t":213,"f":150,"v":-2},{"t":221,"f":150,"v":-1.8},{"t":228,"f":150,"v":-1.6},{"t":236,"f":150,"v":-1.5},{"t":244,"f":150,"v":-1.4},{"t":251,"f":150,"v":-1.6},{"t":259,"f":150,"v":-1.5},{"t":266,"f":150,"v":-1.6},{"t":274,"f":150,"v":-1.6},{"t":304,"f":150,"v":-1.7},{"t":312,"f":150,"v":-1.4},{"t":320,"f":150,"v":-1.2},{"t":84,"f":170,"v":-2.1},{"t":152,"f":170,"v":-2},{"t":160,"f":170,"v":-2},{"t":168,"f":170,"v":-2},{"t":175,"f":170,"v":-2},{"t":198,"f":170,"v":-1.9},{"t":206,"f":170,"v":-1.7},{"t":213,"f":170,"v":-1.6},{"t":221,"f":170,"v":-1.6},{"t":228,"f":170,"v":-1.5},{"t":236,"f":170,"v":-1.7},{"t":244,"f":170,"v":-1.7},{"t":259,"f":170,"v":-1.6},{"t":266,"f":170,"v":-1.6},{"t":274,"f":170,"v":-1.6},{"t":297,"f":170,"v":-1.8},{"t":304,"f":170,"v":-1.5},{"t":312,"f":170,"v":-1.3},{"t":320,"f":170,"v":-1.5},{"t":84,"f":190,"v":-1.6},{"t":92,"f":190,"v":-1.7},{"t":190,"f":190,"v":-2},{"t":198,"f":190,"v":-1.8},{"t":213,"f":190,"v":-1.8},{"t":221,"f":190,"v":-1.4},{"t":228,"f":190,"v":-1.5},{"t":236,"f":190,"v":-1.7},{"t":244,"f":190,"v":-1.7},{"t":259,"f":190,"v":-1.6},{"t":266,"f":190,"v":-1.4},{"t":274,"f":190,"v":-1.5},{"t":282,"f":190,"v":-1.6},{"t":304,"f":190,"v":-1.8},{"t":312,"f":190,"v":-1.7},{"t":320,"f":190,"v":-1.7},{"t":84,"f":210,"v":-2},{"t":183,"f":210,"v":-2},{"t":190,"f":210,"v":-1.8},{"t":198,"f":210,"v":-1.7},{"t":206,"f":210,"v":-1.5},{"t":213,"f":210,"v":-1.5},{"t":221,"f":210,"v":-1.5},{"t":228,"f":210,"v":-1.6},{"t":236,"f":210,"v":-1.7},{"t":259,"f":210,"v":-1.6},{"t":266,"f":210,"v":-1.4},{"t":274,"f":210,"v":-1.2},{"t":282,"f":210,"v":-1.1},{"t":289,"f":210,"v":-1.3},{"t":297,"f":210,"v":-1.6},{"t":312,"f":210,"v":-1.8},{"t":320,"f":210,"v":-1.7},{"t":183,"f":230,"v":-2},{"t":190,"f":230,"v":-2},{"t":251,"f":230,"v":-1.9},{"t":259,"f":230,"v":-1.7},{"t":266,"f":230,"v":-1.6},{"t":274,"f":230,"v":-1.5},{"t":282,"f":230,"v":-1.5},{"t":289,"f":230,"v":-1.5},{"t":297,"f":230,"v":-1.6},{"t":304,"f":230,"v":-1.7},{"t":312,"f":230,"v":-2},{"t":320,"f":230,"v":-2},{"t":183,"f":250,"v":-1.8},{"t":190,"f":250,"v":-1.9},{"t":251,"f":250,"v":-1.9},{"t":259,"f":250,"v":-1.6},{"t":266,"f":250,"v":-1.8},{"t":282,"f":250,"v":-1.6},{"t":289,"f":250,"v":-1.3},{"t":297,"f":250,"v":-1.4},{"t":304,"f":250,"v":-1.7},{"t":312,"f":250,"v":-1.8},{"t":320,"f":250,"v":-1.7},{"t":183,"f":270,"v":-2},{"t":190,"f":270,"v":-2},{"t":198,"f":270,"v":-2},{"t":206,"f":270,"v":-2},{"t":244,"f":270,"v":-1.8},{"t":251,"f":270,"v":-1.7},{"t":259,"f":270,"v":-1.5},{"t":266,"f":270,"v":-1.7},{"t":274,"f":270,"v":-1.7},{"t":282,"f":270,"v":-1.5},{"t":289,"f":270,"v":-1.3},{"t":297,"f":270,"v":-1.3},{"t":304,"f":270,"v":-1.4},{"t":312,"f":270,"v":-1.5},{"t":320,"f":270,"v":-1.7},{"t":206,"f":290,"v":-2},{"t":213,"f":290,"v":-1.9},{"t":244,"f":290,"v":-1.8},{"t":251,"f":290,"v":-1.6},{"t":259,"f":290,"v":-1.5},{"t":266,"f":290,"v":-1.5},{"t":274,"f":290,"v":-1.7},{"t":312,"f":290,"v":-1.7},{"t":320,"f":290,"v":-1.7},{"t":198,"f":310,"v":-2},{"t":206,"f":310,"v":-2},{"t":213,"f":310,"v":-1.9},{"t":221,"f":310,"v":-1.9},{"t":244,"f":310,"v":-1.8},{"t":251,"f":310,"v":-1.7},{"t":259,"f":310,"v":-1.9},{"t":274,"f":310,"v":-1.8},{"t":282,"f":310,"v":-1.8},{"t":183,"f":330,"v":-2},{"t":213,"f":330,"v":-1.9},{"t":221,"f":330,"v":-1.9},{"t":244,"f":330,"v":-1.7},{"t":251,"f":330,"v":-1.6},{"t":259,"f":330,"v":-1.6},{"t":266,"f":330,"v":-1.7},{"t":274,"f":330,"v":-1.7},{"t":282,"f":330,"v":-1.7},{"t":289,"f":330,"v":-1.7},{"t":297,"f":330,"v":-1.8},{"t":304,"f":330,"v":-1.8},{"t":312,"f":330,"v":-1.8},{"t":320,"f":330,"v":-1.8},{"t":175,"f":350,"v":-2},{"t":183,"f":350,"v":-1.9},{"t":190,"f":350,"v":-2},{"t":213,"f":350,"v":-1.9},{"t":221,"f":350,"v":-1.9},{"t":244,"f":350,"v":-1.8},{"t":251,"f":350,"v":-1.7},{"t":259,"f":350,"v":-1.7},{"t":289,"f":350,"v":-2},{"t":297,"f":350,"v":-2},{"t":304,"f":350,"v":-1.9},{"t":320,"f":350,"v":-2},{"t":175,"f":370,"v":-2.1},{"t":213,"f":370,"v":-2},{"t":221,"f":370,"v":-1.9},{"t":244,"f":370,"v":-1.8},{"t":251,"f":370,"v":-1.7},{"t":259,"f":370,"v":-1.8},{"t":289,"f":370,"v":-2},{"t":297,"f":370,"v":-1.8},{"t":304,"f":370,"v":-1.8},{"t":312,"f":370,"v":-2},{"t":213,"f":390,"v":-2},{"t":221,"f":390,"v":-2},{"t":297,"f":390,"v":-2},{"t":304,"f":390,"v":-1.9},{"t":312,"f":390,"v":-1.8},{"t":320,"f":390,"v":-1.7},{"t":221,"f":410,"v":-1.9},{"t":228,"f":410,"v":-1.8},{"t":236,"f":410,"v":-1.8},{"t":244,"f":410,"v":-2},{"t":312,"f":410,"v":-1.8},{"t":320,"f":410,"v":-1.6},{"t":213,"f":430,"v":-1.9},{"t":221,"f":430,"v":-1.9},{"t":228,"f":430,"v":-2},{"t":251,"f":430,"v":-1.7},{"t":259,"f":430,"v":-1.6},{"t":266,"f":430,"v":-1.6},{"t":274,"f":430,"v":-1.7},{"t":320,"f":430,"v":-1.9},{"t":206,"f":450,"v":-2},{"t":213,"f":450,"v":-2},{"t":251,"f":450,"v":-1.7},{"t":259,"f":450,"v":-1.4},{"t":266,"f":450,"v":-1.4},{"t":274,"f":450,"v":-1.6},{"t":251,"f":470,"v":-1.8},{"t":259,"f":470,"v":-1.6},{"t":266,"f":470,"v":-1.6},{"t":274,"f":470,"v":-1.7},{"t":251,"f":490,"v":-2},{"t":259,"f":490,"v":-2},{"t":282,"f":490,"v":-2.1},{"t":320,"f":490,"v":-2}],
"j":[{"t":84,"f":50,"v":-1.6},{"t":91,"f":50,"v":-1.6},{"t":98,"f":50,"v":-1.6},{"t":105,"f":50,"v":-2},{"t":112,"f":50,"v":-1.9},{"t":119,"f":50,"v":-1.8},{"t":126,"f":50,"v":-1.7},{"t":133,"f":50,"v":-1.9},{"t":140,"f":50,"v":-2},{"t":147,"f":50,"v":-2.1},{"t":154,"f":50,"v":-1.9},{"t":161,"f":50,"v":-1.8},{"t":168,"f":50,"v":-1.7},{"t":175,"f":50,"v":-1.3},{"t":182,"f":50,"v":-0.9},{"t":189,"f":50,"v":-2},{"t":196,"f":50,"v":-0.9},{"t":203,"f":50,"v":-0.6},{"t":210,"f":50,"v":-0.45},{"t":217,"f":50,"v":-0.2},{"t":224,"f":50,"v":-0.1},{"t":231,"f":50,"v":-0.05},{"t":238,"f":50,"v":-0.15},{"t":245,"f":50,"v":-0.3},{"t":252,"f":50,"v":-0.3},{"t":259,"f":50,"v":-0.4},{"t":266,"f":50,"v":-0.6},{"t":273,"f":50,"v":-0.7},{"t":280,"f":50,"v":-0.9},{"t":287,"f":50,"v":-2},{"t":294,"f":50,"v":-1.5},{"t":301,"f":50,"v":-1.5},{"t":126,"f":70,"v":-1.6},{"t":133,"f":70,"v":-1.6},{"t":140,"f":70,"v":-1.6},{"t":147,"f":70,"v":-1.6},{"t":154,"f":70,"v":-1.5},{"t":161,"f":70,"v":-1.3},{"t":168,"f":70,"v":-1.1},{"t":175,"f":70,"v":-0.9},{"t":182,"f":70,"v":-0.7},{"t":189,"f":70,"v":-0.5},{"t":196,"f":70,"v":-0.3},{"t":203,"f":70,"v":-0.15},{"t":210,"f":70,"v":-0.1},{"t":217,"f":70,"v":-0.2},{"t":224,"f":70,"v":-0.3},{"t":231,"f":70,"v":-0.7},{"t":238,"f":70,"v":-1.2},{"t":245,"f":70,"v":-1.5},{"t":252,"f":70,"v":-1.2},{"t":259,"f":70,"v":-0.9},{"t":266,"f":70,"v":-1},{"t":273,"f":70,"v":-1.4},{"t":280,"f":70,"v":-1.6},{"t":287,"f":70,"v":-1.6},{"t":294,"f":70,"v":-1.6},{"t":301,"f":70,"v":-1.6},{"t":133,"f":90,"v":-2},{"t":140,"f":90,"v":-2},{"t":147,"f":90,"v":-1.9},{"t":154,"f":90,"v":-1.7},{"t":161,"f":90,"v":-1.5},{"t":168,"f":90,"v":-1.1},{"t":175,"f":90,"v":-0.7},{"t":182,"f":90,"v":-0.5},{"t":189,"f":90,"v":-0.5},{"t":196,"f":90,"v":-0.6},{"t":203,"f":90,"v":-1},{"t":210,"f":90,"v":-1.2},{"t":217,"f":90,"v":-1.3},{"t":224,"f":90,"v":-1.4},{"t":231,"f":90,"v":-1.7},{"t":245,"f":90,"v":-2},{"t":252,"f":90,"v":-1.7},{"t":259,"f":90,"v":-1.7},{"t":266,"f":90,"v":-1.7},{"t":273,"f":90,"v":-1.8},{"t":280,"f":90,"v":-1.8},{"t":287,"f":90,"v":-1.8},{"t":294,"f":90,"v":-1.8},{"t":301,"f":90,"v":-1.8},{"t":161,"f":110,"v":-1.9},{"t":168,"f":110,"v":-1.6},{"t":175,"f":110,"v":-2},{"t":182,"f":110,"v":-1.6},{"t":189,"f":110,"v":-1.3},{"t":196,"f":110,"v":-1.9},{"t":203,"f":110,"v":-1.2},{"t":210,"f":110,"v":-1.2},{"t":217,"f":110,"v":-1.1},{"t":224,"f":110,"v":-1.2},{"t":231,"f":110,"v":-1.3},{"t":252,"f":110,"v":-2},{"t":259,"f":110,"v":-2},{"t":266,"f":110,"v":-2},{"t":161,"f":130,"v":-1.7},{"t":168,"f":130,"v":-1.4},{"t":175,"f":130,"v":-1.4},{"t":182,"f":130,"v":-1.4},{"t":189,"f":130,"v":-1.5},{"t":196,"f":130,"v":-1.4},{"t":203,"f":130,"v":-1.5},{"t":210,"f":130,"v":-1.1},{"t":217,"f":130,"v":-1},{"t":224,"f":130,"v":-1},{"t":231,"f":130,"v":-1.3},{"t":238,"f":130,"v":-2},{"t":245,"f":130,"v":-2},{"t":252,"f":130,"v":-2},{"t":287,"f":130,"v":-2},{"t":294,"f":130,"v":-2},{"t":301,"f":130,"v":-2},{"t":161,"f":150,"v":-1.7},{"t":168,"f":150,"v":-1.5},{"t":175,"f":150,"v":-1.4},{"t":182,"f":150,"v":-1.4},{"t":189,"f":150,"v":-1.6},{"t":203,"f":150,"v":-1.7},{"t":210,"f":150,"v":-1.4},{"t":217,"f":150,"v":-1.4},{"t":224,"f":150,"v":-1.5},{"t":301,"f":150,"v":-2},{"t":168,"f":170,"v":-2},{"t":175,"f":170,"v":-1.8},{"t":182,"f":170,"v":-1.6},{"t":189,"f":170,"v":-1.6},{"t":196,"f":170,"v":-1.6},{"t":203,"f":170,"v":-1.8},{"t":182,"f":190,"v":-2},{"t":189,"f":190,"v":-1.9},{"t":196,"f":190,"v":-1.8},{"t":203,"f":190,"v":-2},{"t":182,"f":230,"v":-2},{"t":189,"f":230,"v":-2},{"t":196,"f":230,"v":-2.1},{"t":182,"f":250,"v":-2},{"t":182,"f":270,"v":-2.1},{"t":182,"f":290,"v":-2},{"t":189,"f":290,"v":-1.9},{"t":196,"f":290,"v":-1.9},{"t":203,"f":290,"v":-2.1},{"t":203,"f":310,"v":-2.1},{"t":273,"f":330,"v":-2.2},{"t":217,"f":370,"v":-2.1},{"t":224,"f":370,"v":-2},{"t":224,"f":350,"v":-2.1}],
"k":[{"t":84,"f":50,"v":-1.3},{"t":91,"f":50,"v":-1.4},{"t":98,"f":50,"v":-1.5},{"t":112,"f":50,"v":-1.7},{"t":119,"f":50,"v":-1.5},{"t":126,"f":50,"v":-1.5},{"t":133,"f":50,"v":-1.5},{"t":140,"f":50,"v":-2},{"t":147,"f":50,"v":-1.6},{"t":154,"f":50,"v":-1.4},{"t":161,"f":50,"v":-1.9},{"t":168,"f":50,"v":-1.1},{"t":175,"f":50,"v":-1},{"t":182,"f":50,"v":-1.5},{"t":189,"f":50,"v":-2.2},{"t":196,"f":50,"v":-0.8},{"t":203,"f":50,"v":-0.6},{"t":210,"f":50,"v":-0.5},{"t":217,"f":50,"v":-0.6},{"t":224,"f":50,"v":-0.1},{"t":231,"f":50,"v":-0.02},{"t":238,"f":50,"v":-0.1},{"t":245,"f":50,"v":-0.3},{"t":252,"f":50,"v":-0.8},{"t":259,"f":50,"v":-1},{"t":266,"f":50,"v":-0.85},{"t":273,"f":50,"v":-0.75},{"t":280,"f":50,"v":-0.9},{"t":287,"f":50,"v":-1},{"t":294,"f":50,"v":-1.1},{"t":301,"f":50,"v":-1.2},{"t":84,"f":70,"v":-1.9},{"t":112,"f":70,"v":-1.8},{"t":119,"f":70,"v":-1.6},{"t":126,"f":70,"v":-1.5},{"t":133,"f":70,"v":-1.4},{"t":140,"f":70,"v":-1.3},{"t":147,"f":70,"v":-1.1},{"t":154,"f":70,"v":-0.9},{"t":161,"f":70,"v":-0.7},{"t":168,"f":70,"v":-0.6},{"t":175,"f":70,"v":-0.7},{"t":182,"f":70,"v":-0.85},{"t":189,"f":70,"v":-0.9},{"t":196,"f":70,"v":-0.8},{"t":203,"f":70,"v":-0.4},{"t":210,"f":70,"v":-0.5},{"t":217,"f":70,"v":-0.85},{"t":224,"f":70,"v":-1.4},{"t":231,"f":70,"v":-1.3},{"t":238,"f":70,"v":-0.9},{"t":245,"f":70,"v":-0.75},{"t":252,"f":70,"v":-0.75},{"t":259,"f":70,"v":-0.9},{"t":266,"f":70,"v":-1.1},{"t":273,"f":70,"v":-1.3},{"t":280,"f":70,"v":-1.3},{"t":287,"f":70,"v":-1.2},{"t":294,"f":70,"v":-1.2},{"t":301,"f":70,"v":-1.2},{"t":140,"f":90,"v":-1.7},{"t":147,"f":90,"v":-1.5},{"t":154,"f":90,"v":-1.1},{"t":161,"f":90,"v":-1},{"t":168,"f":90,"v":-1.1},{"t":175,"f":90,"v":-1},{"t":182,"f":90,"v":-0.95},{"t":189,"f":90,"v":-1.1},{"t":196,"f":90,"v":-1.2},{"t":203,"f":90,"v":-1.4},{"t":210,"f":90,"v":-1.1},{"t":217,"f":90,"v":-1.2},{"t":224,"f":90,"v":-1.6},{"t":245,"f":90,"v":-2},{"t":252,"f":90,"v":-1.5},{"t":259,"f":90,"v":-1.9},{"t":266,"f":90,"v":-2},{"t":273,"f":90,"v":-2},{"t":287,"f":90,"v":-1.8},{"t":294,"f":90,"v":-1.8},{"t":301,"f":90,"v":-1.7},{"t":133,"f":110,"v":-1.9},{"t":140,"f":110,"v":-1.8},{"t":147,"f":110,"v":-1.8},{"t":154,"f":110,"v":-1.4},{"t":161,"f":110,"v":-1.4},{"t":168,"f":110,"v":-1.5},{"t":175,"f":110,"v":-1.3},{"t":182,"f":110,"v":-1.5},{"t":189,"f":110,"v":-1.7},{"t":196,"f":110,"v":-1.3},{"t":203,"f":110,"v":-1.1},{"t":210,"f":110,"v":-1.2},{"t":217,"f":110,"v":-1.2},{"t":224,"f":110,"v":-1.5},{"t":245,"f":110,"v":-2},{"t":252,"f":110,"v":-2},{"t":259,"f":110,"v":-2},{"t":147,"f":130,"v":-2},{"t":154,"f":130,"v":-1.2},{"t":161,"f":130,"v":-0.8},{"t":168,"f":130,"v":-0.75},{"t":175,"f":130,"v":-0.8},{"t":182,"f":130,"v":-0.8},{"t":189,"f":130,"v":-0.7},{"t":196,"f":130,"v":-0.6},{"t":203,"f":130,"v":-0.5},{"t":210,"f":130,"v":-0.4},{"t":217,"f":130,"v":-0.5},{"t":224,"f":130,"v":-0.9},{"t":245,"f":130,"v":-2},{"t":252,"f":130,"v":-1.9},{"t":259,"f":130,"v":-1.9},{"t":266,"f":130,"v":-1.9},{"t":273,"f":130,"v":-1.9},{"t":280,"f":130,"v":-1.9},{"t":287,"f":130,"v":-1.9},{"t":294,"f":130,"v":-2},{"t":154,"f":150,"v":-1.3},{"t":161,"f":150,"v":-1.3},{"t":168,"f":150,"v":-1.2},{"t":175,"f":150,"v":-1.1},{"t":182,"f":150,"v":-1.1},{"t":189,"f":150,"v":-1},{"t":196,"f":150,"v":-0.8},{"t":203,"f":150,"v":-0.6},{"t":210,"f":150,"v":-0.6},{"t":217,"f":150,"v":-0.7},{"t":224,"f":150,"v":-1},{"t":238,"f":150,"v":-2},{"t":259,"f":150,"v":-2},{"t":266,"f":150,"v":-2},{"t":273,"f":150,"v":-2},{"t":280,"f":150,"v":-2},{"t":154,"f":170,"v":-2},{"t":161,"f":170,"v":-2},{"t":168,"f":170,"v":-2},{"t":175,"f":170,"v":-2},{"t":182,"f":170,"v":-1.9},{"t":189,"f":170,"v":-1.9},{"t":196,"f":170,"v":-1.9},{"t":203,"f":170,"v":-1.9},{"t":210,"f":170,"v":-1.9},{"t":217,"f":170,"v":-1.9},{"t":224,"f":170,"v":-1.9},{"t":231,"f":170,"v":-1.9},{"t":238,"f":170,"v":-2},{"t":189,"f":190,"v":-2},{"t":196,"f":190,"v":-1.9},{"t":203,"f":190,"v":-2},{"t":280,"f":210,"v":-2},{"t":175,"f":230,"v":-1.9},{"t":182,"f":230,"v":-1.9},{"t":189,"f":230,"v":-1.8},{"t":196,"f":230,"v":-1.8},{"t":203,"f":230,"v":-2},{"t":175,"f":250,"v":-1.6},{"t":182,"f":250,"v":-1.4},{"t":189,"f":250,"v":-1.4},{"t":196,"f":250,"v":-1.7},{"t":273,"f":250,"v":-2},{"t":280,"f":250,"v":-2},{"t":287,"f":250,"v":-2},{"t":182,"f":270,"v":-1.8},{"t":189,"f":270,"v":-1.8},{"t":196,"f":270,"v":-2},{"t":189,"f":290,"v":-2},{"t":196,"f":290,"v":-1.9},{"t":203,"f":290,"v":-1.8},{"t":210,"f":290,"v":-1.8},{"t":217,"f":290,"v":-1.8},{"t":287,"f":290,"v":-2},{"t":301,"f":290,"v":-2},{"t":196,"f":310,"v":-2},{"t":203,"f":310,"v":-2},{"t":280,"f":310,"v":-2.1},{"t":287,"f":310,"v":-2},{"t":224,"f":350,"v":-1.9},{"t":231,"f":350,"v":-1.9},{"t":224,"f":370,"v":-1.8},{"t":231,"f":370,"v":-1.8},{"t":224,"f":390,"v":-2.1},{"t":273,"f":430,"v":-1.9},{"t":280,"f":430,"v":-1.9},{"t":217,"f":470,"v":-2},{"t":217,"f":490,"v":-1.9},{"t":224,"f":490,"v":-1.9}],
"l":[{"t":84,"f":50,"v":-0.6},{"t":91,"f":50,"v":-0.9},{"t":98,"f":50,"v":-1.5},{"t":105,"f":50,"v":-1.5},{"t":112,"f":50,"v":-1.4},{"t":119,"f":50,"v":-1.3},{"t":126,"f":50,"v":-1.3},{"t":133,"f":50,"v":-1.2},{"t":140,"f":50,"v":-1.2},{"t":147,"f":50,"v":-1.1},{"t":154,"f":50,"v":-1.1},{"t":161,"f":50,"v":-1},{"t":168,"f":50,"v":-0.95},{"t":175,"f":50,"v":-0.9},{"t":182,"f":50,"v":-0.9},{"t":189,"f":50,"v":-1.3},{"t":196,"f":50,"v":-2},{"t":203,"f":50,"v":-0.8},{"t":210,"f":50,"v":-0.6},{"t":217,"f":50,"v":-0.6},{"t":224,"f":50,"v":-0.4},{"t":231,"f":50,"v":-0.4},{"t":238,"f":50,"v":-0.1},{"t":245,"f":50,"v":-0.2},{"t":252,"f":50,"v":-0.9},{"t":259,"f":50,"v":-0.3},{"t":266,"f":50,"v":-0.1},{"t":273,"f":50,"v":-0.1},{"t":280,"f":50,"v":-0.7},{"t":287,"f":50,"v":-2},{"t":294,"f":50,"v":-1.2},{"t":301,"f":50,"v":-1.2},{"t":84,"f":70,"v":-1.8},{"t":91,"f":70,"v":-1.9},{"t":119,"f":70,"v":-2},{"t":126,"f":70,"v":-1.9},{"t":154,"f":70,"v":-2},{"t":161,"f":70,"v":-1.7},{"t":168,"f":70,"v":-1.6},{"t":175,"f":70,"v":-1.6},{"t":182,"f":70,"v":-1.6},{"t":189,"f":70,"v":-1.3},{"t":196,"f":70,"v":-1.4},{"t":203,"f":70,"v":-1.8},{"t":210,"f":70,"v":-1.4},{"t":217,"f":70,"v":-1.2},{"t":224,"f":70,"v":-1},{"t":231,"f":70,"v":-0.9},{"t":238,"f":70,"v":-0.7},{"t":245,"f":70,"v":-0.5},{"t":252,"f":70,"v":-0.4},{"t":259,"f":70,"v":-0.4},{"t":266,"f":70,"v":-0.5},{"t":273,"f":70,"v":-0.7},{"t":280,"f":70,"v":-0.9},{"t":287,"f":70,"v":-1},{"t":294,"f":70,"v":-1},{"t":301,"f":70,"v":-1},{"t":133,"f":90,"v":-2},{"t":140,"f":90,"v":-1.9},{"t":147,"f":90,"v":-1.9},{"t":168,"f":90,"v":-2},{"t":175,"f":90,"v":-1.7},{"t":182,"f":90,"v":-1.5},{"t":189,"f":90,"v":-1.5},{"t":196,"f":90,"v":-1.5},{"t":203,"f":90,"v":-1.6},{"t":210,"f":90,"v":-1.2},{"t":217,"f":90,"v":-1},{"t":224,"f":90,"v":-1},{"t":231,"f":90,"v":-1.6},{"t":238,"f":90,"v":-1.3},{"t":245,"f":90,"v":-1.1},{"t":252,"f":90,"v":-1.4},{"t":266,"f":90,"v":-1.9},{"t":273,"f":90,"v":-1.7},{"t":280,"f":90,"v":-1.5},{"t":287,"f":90,"v":-1.5},{"t":294,"f":90,"v":-1.6},{"t":301,"f":90,"v":-1.6},{"t":133,"f":110,"v":-1.9},{"t":140,"f":110,"v":-1.9},{"t":161,"f":110,"v":-1.8},{"t":168,"f":110,"v":-1.3},{"t":175,"f":110,"v":-0.9},{"t":182,"f":110,"v":-0.7},{"t":189,"f":110,"v":-0.8},{"t":196,"f":110,"v":-0.8},{"t":203,"f":110,"v":-0.9},{"t":210,"f":110,"v":-1.2},{"t":217,"f":110,"v":-1.3},{"t":224,"f":110,"v":-1.5},{"t":231,"f":110,"v":-1.8},{"t":238,"f":110,"v":-1.3},{"t":245,"f":110,"v":-1.1},{"t":252,"f":110,"v":-1.3},{"t":266,"f":110,"v":-2},{"t":133,"f":130,"v":-2},{"t":140,"f":130,"v":-1.8},{"t":147,"f":130,"v":-1.7},{"t":154,"f":130,"v":-1.6},{"t":161,"f":130,"v":-1.2},{"t":168,"f":130,"v":-0.6},{"t":175,"f":130,"v":-0.3},{"t":182,"f":130,"v":-0.35},{"t":189,"f":130,"v":-0.4},{"t":196,"f":130,"v":-0.5},{"t":203,"f":130,"v":-0.6},{"t":210,"f":130,"v":-0.7},{"t":217,"f":130,"v":-0.8},{"t":224,"f":130,"v":-1},{"t":231,"f":130,"v":-1.5},{"t":238,"f":130,"v":-1.5},{"t":245,"f":130,"v":-1.5},{"t":252,"f":130,"v":-1.6},{"t":259,"f":130,"v":-1.9},{"t":266,"f":130,"v":-1.7},{"t":273,"f":130,"v":-1.5},{"t":280,"f":130,"v":-1.6},{"t":287,"f":130,"v":-1.8},{"t":294,"f":130,"v":-2},{"t":154,"f":150,"v":-1.9},{"t":161,"f":150,"v":-1.4},{"t":168,"f":150,"v":-0.9},{"t":175,"f":150,"v":-0.7},{"t":182,"f":150,"v":-0.75},{"t":189,"f":150,"v":-0.7},{"t":196,"f":150,"v":-0.8},{"t":203,"f":150,"v":-0.85},{"t":210,"f":150,"v":-0.9},{"t":217,"f":150,"v":-1.1},{"t":224,"f":150,"v":-1.2},{"t":231,"f":150,"v":-1.7},{"t":259,"f":150,"v":-2},{"t":266,"f":150,"v":-1.8},{"t":273,"f":150,"v":-1.3},{"t":280,"f":150,"v":-1.3},{"t":287,"f":150,"v":-1.3},{"t":294,"f":150,"v":-1.4},{"t":301,"f":150,"v":-1.6},{"t":161,"f":170,"v":-2},{"t":168,"f":170,"v":-1.9},{"t":175,"f":170,"v":-1.9},{"t":182,"f":170,"v":-1.9},{"t":189,"f":170,"v":-1.9},{"t":196,"f":170,"v":-1.9},{"t":203,"f":170,"v":-1.9},{"t":210,"f":170,"v":-1.9},{"t":217,"f":170,"v":-1.9},{"t":224,"f":170,"v":-1.9},{"t":231,"f":170,"v":-1.9},{"t":238,"f":170,"v":-2},{"t":266,"f":170,"v":-1.7},{"t":273,"f":170,"v":-1.6},{"t":280,"f":170,"v":-1.8},{"t":301,"f":170,"v":-2},{"t":189,"f":190,"v":-2},{"t":196,"f":190,"v":-1.9},{"t":203,"f":190,"v":-1.8},{"t":259,"f":190,"v":-2},{"t":266,"f":190,"v":-1.6},{"t":273,"f":190,"v":-1.6},{"t":175,"f":210,"v":-1.9},{"t":182,"f":210,"v":-1.7},{"t":189,"f":210,"v":-1.7},{"t":196,"f":210,"v":-1.9},{"t":203,"f":210,"v":-2},{"t":238,"f":210,"v":-2},{"t":245,"f":210,"v":-1.9},{"t":266,"f":210,"v":-1.9},{"t":273,"f":210,"v":-1.8},{"t":280,"f":210,"v":-1.7},{"t":287,"f":210,"v":-1.7},{"t":294,"f":210,"v":-1.7},{"t":175,"f":230,"v":-1.5},{"t":182,"f":230,"v":-1.3},{"t":189,"f":230,"v":-1.3},{"t":196,"f":230,"v":-1.5},{"t":203,"f":230,"v":-1.6},{"t":224,"f":230,"v":-2},{"t":231,"f":230,"v":-2},{"t":245,"f":230,"v":-2},{"t":280,"f":230,"v":-2},{"t":287,"f":230,"v":-2},{"t":301,"f":230,"v":-1.8},{"t":175,"f":250,"v":-1.4},{"t":182,"f":250,"v":-1.1},{"t":189,"f":250,"v":-1.1},{"t":196,"f":250,"v":-1.3},{"t":203,"f":250,"v":-1.6},{"t":210,"f":250,"v":-1.8},{"t":259,"f":250,"v":-2},{"t":266,"f":250,"v":-2},{"t":273,"f":250,"v":-2},{"t":280,"f":250,"v":-2},{"t":175,"f":270,"v":-1.5},{"t":182,"f":270,"v":-1.2},{"t":189,"f":270,"v":-1.3},{"t":196,"f":270,"v":-1.5},{"t":252,"f":270,"v":-2},{"t":259,"f":270,"v":-2},{"t":280,"f":270,"v":-1.9},{"t":287,"f":270,"v":-1.6},{"t":294,"f":270,"v":-1.5},{"t":301,"f":270,"v":-1.5},{"t":175,"f":290,"v":-1.7},{"t":182,"f":290,"v":-1.6},{"t":189,"f":290,"v":-1.6},{"t":196,"f":290,"v":-1.8},{"t":287,"f":290,"v":-1.7},{"t":294,"f":290,"v":-1.6},{"t":301,"f":290,"v":-1.5},{"t":175,"f":310,"v":-1.8},{"t":182,"f":310,"v":-1.8},{"t":189,"f":310,"v":-1.9},{"t":196,"f":310,"v":-2},{"t":203,"f":310,"v":-2},{"t":210,"f":310,"v":-2.1},{"t":294,"f":310,"v":-1.9},{"t":301,"f":310,"v":-1.8},{"t":189,"f":330,"v":-2.1},{"t":203,"f":330,"v":-2},{"t":287,"f":330,"v":-2.1},{"t":294,"f":330,"v":-2},{"t":252,"f":350,"v":-1.9},{"t":259,"f":350,"v":-1.9},{"t":266,"f":350,"v":-1.9},{"t":273,"f":350,"v":-1.9},{"t":280,"f":350,"v":-1.9},{"t":287,"f":350,"v":-1.9},{"t":294,"f":350,"v":-1.9},{"t":301,"f":350,"v":-1.9},{"t":301,"f":370,"v":-2},{"t":189,"f":410,"v":-2},{"t":224,"f":410,"v":-2.1},{"t":266,"f":430,"v":-1.8},{"t":273,"f":430,"v":-1.7},{"t":280,"f":430,"v":-1.8},{"t":210,"f":450,"v":-1.9},{"t":217,"f":450,"v":-1.8},{"t":224,"f":450,"v":-1.9},{"t":273,"f":450,"v":-1.9},{"t":210,"f":470,"v":-1.9},{"t":217,"f":470,"v":-1.7},{"t":224,"f":470,"v":-1.7},{"t":231,"f":470,"v":-2},{"t":301,"f":470,"v":-2},{"t":217,"f":490,"v":-2},{"t":224,"f":490,"v":-1.9},{"t":231,"f":490,"v":-2}]},
"concat":[
{"data":{"values":[{"r":"27 𝑀⊙"}]},"width":95,"height":155,"view":{"fill":null,"stroke":null},"mark":{"type":"text","angle":270,"fontSize":19.5,"dy":-31,"color":"#222"},"encoding":{"text":{"field":"r"}}},
{"title":{"text":"Strong Modulations","offset":-2},"data":{"name":"a"},"width":216,"height":155,"mark":{"type":"rect","width":7,"height":7,"clip":true},"encoding":{"x":{"field":"t","type":"quantitative","scale":{"domain":[79,531],"nice":false},"axis":{"values":[100,120,140,160,180,200,220,240,260,280,300,320,340,360,380,400,420,440,460,480,500,520],"title":null}},"y":{"field":"f","type":"quantitative","scale":{"domain":[40,500],"nice":false},"axis":{"values":[60,80,100,120,140,160,180,200,220,240,260,280,300,320,340,360,380,400,420,440,460,480,500],"title":"Frequency [Hz]"}},"color":{"field":"v","type":"quantitative","scale":{"domain":[-2.5,0]}}}},
{"title":"Intermediate Modulations","data":{"name":"b"},"width":216,"height":155,"mark":{"type":"rect","width":7,"height":7,"clip":true},"encoding":{"x":{"field":"t","type":"quantitative","scale":{"domain":[79,531],"nice":false},"axis":{"values":[100,120,140,160,180,200,220,240,260,280,300,320,340,360,380,400,420,440,460,480,500,520],"title":null}},"y":{"field":"f","type":"quantitative","scale":{"domain":[40,500],"nice":false},"axis":null},"color":{"field":"v","type":"quantitative","scale":{"domain":[-2.5,0]}}}},
{"title":"Weak Modulations","data":{"name":"c"},"width":216,"height":155,"mark":{"type":"rect","width":7,"height":7,"clip":true},"encoding":{"x":{"field":"t","type":"quantitative","scale":{"domain":[79,531],"nice":false},"axis":{"values":[100,120,140,160,180,200,220,240,260,280,300,320,340,360,380,400,420,440,460,480,500,520],"title":null}},"y":{"field":"f","type":"quantitative","scale":{"domain":[40,500],"nice":false},"axis":null},"color":{"field":"v","type":"quantitative","scale":{"domain":[-2.5,0]}}}},
{"data":{"name":"cb"},"width":13,"height":155,"view":{"fill":null,"stroke":null},"mark":{"type":"rect","stroke":"#000","strokeWidth":1,"color":{"gradient":"linear","x1":0,"y1":1,"x2":0,"y2":0,"stops":[{"offset":0,"color":"#00007f"},{"offset":0.125,"color":"#0000ff"},{"offset":0.25,"color":"#007fff"},{"offset":0.375,"color":"#00ffff"},{"offset":0.5,"color":"#7fff7f"},{"offset":0.625,"color":"#ffff00"},{"offset":0.75,"color":"#ff7f00"},{"offset":0.875,"color":"#ff0000"},{"offset":1,"color":"#7f0000"}]}},"encoding":{"x":{"field":"a","type":"quantitative","axis":null,"scale":{"domain":[0,13],"nice":false}},"x2":{"field":"b"},"y":{"field":"lo","type":"quantitative","scale":{"domain":[-2.5,0],"nice":false},"axis":{"orient":"right","values":[-2.5,-2,-1.5,-1,-0.5,0],"format":".1f","title":"Power","titleFontSize":16.5,"titleAngle":270,"titlePadding":22,"tickSize":4,"labelExpr":"datum.label"}},"y2":{"field":"hi"}}},
{"data":{"values":[{"r":"20 𝑀⊙"}]},"width":95,"height":154,"view":{"fill":null,"stroke":null},"mark":{"type":"text","angle":270,"fontSize":19.5,"dy":-31,"color":"#222"},"encoding":{"text":{"field":"r"}}},
{"data":{"name":"d"},"width":216,"height":154,"mark":{"type":"rect","width":7,"height":7,"clip":true},"encoding":{"x":{"field":"t","type":"quantitative","scale":{"domain":[80.5,314],"nice":false},"axis":{"values":[90,100,110,120,130,140,150,160,170,180,190,200,210,220,230,240,250,260,270,280,290,300,310],"title":null}},"y":{"field":"f","type":"quantitative","scale":{"domain":[40,500],"nice":false},"axis":{"values":[60,80,100,120,140,160,180,200,220,240,260,280,300,320,340,360,380,400,420,440,460,480,500],"title":"Frequency [Hz]"}},"color":{"field":"v","type":"quantitative","scale":{"domain":[-2.5,0]}}}},
{"data":{"name":"e"},"width":216,"height":154,"mark":{"type":"rect","width":7,"height":7,"clip":true},"encoding":{"x":{"field":"t","type":"quantitative","scale":{"domain":[80.5,314],"nice":false},"axis":{"values":[90,100,110,120,130,140,150,160,170,180,190,200,210,220,230,240,250,260,270,280,290,300,310],"title":null}},"y":{"field":"f","type":"quantitative","scale":{"domain":[40,500],"nice":false},"axis":null},"color":{"field":"v","type":"quantitative","scale":{"domain":[-2.5,0]}}}},
{"data":{"name":"f"},"width":216,"height":154,"mark":{"type":"rect","width":7,"height":7,"clip":true},"encoding":{"x":{"field":"t","type":"quantitative","scale":{"domain":[80.5,314],"nice":false},"axis":{"values":[90,100,110,120,130,140,150,160,170,180,190,200,210,220,230,240,250,260,270,280,290,300,310],"title":null}},"y":{"field":"f","type":"quantitative","scale":{"domain":[40,500],"nice":false},"axis":null},"color":{"field":"v","type":"quantitative","scale":{"domain":[-2.5,0]}}}},
{"data":{"name":"cb"},"width":13,"height":154,"view":{"fill":null,"stroke":null},"mark":{"type":"rect","stroke":"#000","strokeWidth":1,"color":{"gradient":"linear","x1":0,"y1":1,"x2":0,"y2":0,"stops":[{"offset":0,"color":"#00007f"},{"offset":0.125,"color":"#0000ff"},{"offset":0.25,"color":"#007fff"},{"offset":0.375,"color":"#00ffff"},{"offset":0.5,"color":"#7fff7f"},{"offset":0.625,"color":"#ffff00"},{"offset":0.75,"color":"#ff7f00"},{"offset":0.875,"color":"#ff0000"},{"offset":1,"color":"#7f0000"}]}},"encoding":{"x":{"field":"a","type":"quantitative","axis":null,"scale":{"domain":[0,13],"nice":false}},"x2":{"field":"b"},"y":{"field":"lo","type":"quantitative","scale":{"domain":[-2.5,0],"nice":false},"axis":{"orient":"right","values":[-2.5,-2,-1.5,-1,-0.5,0],"format":".1f","title":"Power","titleFontSize":16.5,"titleAngle":270,"titlePadding":22,"tickSize":4,"labelExpr":"datum.label"}},"y2":{"field":"hi"}}},
{"data":{"values":[{"r":"11.2 𝑀⊙"}]},"width":95,"height":153,"view":{"fill":null,"stroke":null},"mark":{"type":"text","angle":270,"fontSize":19.5,"dy":-31,"color":"#222"},"encoding":{"text":{"field":"r"}}},
{"data":{"name":"g"},"width":216,"height":153,"mark":{"type":"rect","width":7,"height":7,"clip":true},"encoding":{"x":{"field":"t","type":"quantitative","scale":{"domain":[80,324],"nice":false},"axis":{"values":[90,100,110,120,130,140,150,160,170,180,190,200,210,220,230,240,250,260,270,280,290,300,310,320],"title":null}},"y":{"field":"f","type":"quantitative","scale":{"domain":[40,500],"nice":false},"axis":{"values":[60,80,100,120,140,160,180,200,220,240,260,280,300,320,340,360,380,400,420,440,460,480,500],"title":"Frequency [Hz]"}},"color":{"field":"v","type":"quantitative","scale":{"domain":[-2.5,0]}}}},
{"data":{"name":"h"},"width":216,"height":153,"mark":{"type":"rect","width":7,"height":7,"clip":true},"encoding":{"x":{"field":"t","type":"quantitative","scale":{"domain":[80,324],"nice":false},"axis":{"values":[90,100,110,120,130,140,150,160,170,180,190,200,210,220,230,240,250,260,270,280,290,300,310,320],"title":null}},"y":{"field":"f","type":"quantitative","scale":{"domain":[40,500],"nice":false},"axis":null},"color":{"field":"v","type":"quantitative","scale":{"domain":[-2.5,0]}}}},
{"data":{"name":"i"},"width":216,"height":153,"mark":{"type":"rect","width":7,"height":7,"clip":true},"encoding":{"x":{"field":"t","type":"quantitative","scale":{"domain":[80,324],"nice":false},"axis":{"values":[90,100,110,120,130,140,150,160,170,180,190,200,210,220,230,240,250,260,270,280,290,300,310,320],"title":null}},"y":{"field":"f","type":"quantitative","scale":{"domain":[40,500],"nice":false},"axis":null},"color":{"field":"v","type":"quantitative","scale":{"domain":[-2.5,0]}}}},
{"data":{"name":"cb"},"width":13,"height":153,"view":{"fill":null,"stroke":null},"mark":{"type":"rect","stroke":"#000","strokeWidth":1,"color":{"gradient":"linear","x1":0,"y1":1,"x2":0,"y2":0,"stops":[{"offset":0,"color":"#00007f"},{"offset":0.125,"color":"#0000ff"},{"offset":0.25,"color":"#007fff"},{"offset":0.375,"color":"#00ffff"},{"offset":0.5,"color":"#7fff7f"},{"offset":0.625,"color":"#ffff00"},{"offset":0.75,"color":"#ff7f00"},{"offset":0.875,"color":"#ff0000"},{"offset":1,"color":"#7f0000"}]}},"encoding":{"x":{"field":"a","type":"quantitative","axis":null,"scale":{"domain":[0,13],"nice":false}},"x2":{"field":"b"},"y":{"field":"lo","type":"quantitative","scale":{"domain":[-2.5,0],"nice":false},"axis":{"orient":"right","values":[-2.5,-2,-1.5,-1,-0.5,0],"format":".1f","title":"Power","titleFontSize":16.5,"titleAngle":270,"titlePadding":22,"tickSize":4,"labelExpr":"datum.label"}},"y2":{"field":"hi"}}},
{"data":{"values":[{"r":"15 𝑀⊙, Non Rot"}]},"width":95,"height":153,"view":{"fill":null,"stroke":null},"mark":{"type":"text","angle":270,"fontSize":19.5,"dy":-31,"color":"#222"},"encoding":{"text":{"field":"r"}}},
{"data":{"name":"j"},"width":216,"height":153,"mark":{"type":"rect","width":7,"height":7,"clip":true},"encoding":{"x":{"field":"t","type":"quantitative","scale":{"domain":[80.6,305],"nice":false},"axis":{"values":[90,100,110,120,130,140,150,160,170,180,190,200,210,220,230,240,250,260,270,280,290,300],"title":"Time [ms]","titleFontSize":16.5}},"y":{"field":"f","type":"quantitative","scale":{"domain":[40,500],"nice":false},"axis":{"values":[60,80,100,120,140,160,180,200,220,240,260,280,300,320,340,360,380,400,420,440,460,480,500],"title":"Frequency [Hz]"}},"color":{"field":"v","type":"quantitative","scale":{"domain":[-2.5,0]}}}},
{"data":{"name":"k"},"width":216,"height":153,"mark":{"type":"rect","width":7,"height":7,"clip":true},"encoding":{"x":{"field":"t","type":"quantitative","scale":{"domain":[80.6,305],"nice":false},"axis":{"values":[90,100,110,120,130,140,150,160,170,180,190,200,210,220,230,240,250,260,270,280,290,300],"title":"Time [ms]","titleFontSize":16.5}},"y":{"field":"f","type":"quantitative","scale":{"domain":[40,500],"nice":false},"axis":null},"color":{"field":"v","type":"quantitative","scale":{"domain":[-2.5,0]}}}},
{"data":{"name":"l"},"width":216,"height":153,"mark":{"type":"rect","width":7,"height":7,"clip":true},"encoding":{"x":{"field":"t","type":"quantitative","scale":{"domain":[80.6,305],"nice":false},"axis":{"values":[90,100,110,120,130,140,150,160,170,180,190,200,210,220,230,240,250,260,270,280,290,300],"title":"Time [ms]","titleFontSize":16.5}},"y":{"field":"f","type":"quantitative","scale":{"domain":[40,500],"nice":false},"axis":null},"color":{"field":"v","type":"quantitative","scale":{"domain":[-2.5,0]}}}},
{"data":{"name":"cb"},"width":13,"height":153,"view":{"fill":null,"stroke":null},"mark":{"type":"rect","stroke":"#000","strokeWidth":1,"color":{"gradient":"linear","x1":0,"y1":1,"x2":0,"y2":0,"stops":[{"offset":0,"color":"#00007f"},{"offset":0.125,"color":"#0000ff"},{"offset":0.25,"color":"#007fff"},{"offset":0.375,"color":"#00ffff"},{"offset":0.5,"color":"#7fff7f"},{"offset":0.625,"color":"#ffff00"},{"offset":0.75,"color":"#ff7f00"},{"offset":0.875,"color":"#ff0000"},{"offset":1,"color":"#7f0000"}]}},"encoding":{"x":{"field":"a","type":"quantitative","axis":null,"scale":{"domain":[0,13],"nice":false}},"x2":{"field":"b"},"y":{"field":"lo","type":"quantitative","scale":{"domain":[-2.5,0],"nice":false},"axis":{"orient":"right","values":[-2.5,-2,-1.5,-1,-0.5,0],"format":".1f","title":"Power","titleFontSize":16.5,"titleAngle":270,"titlePadding":22,"tickSize":4,"labelExpr":"datum.label"}},"y2":{"field":"hi"}}}
]}
